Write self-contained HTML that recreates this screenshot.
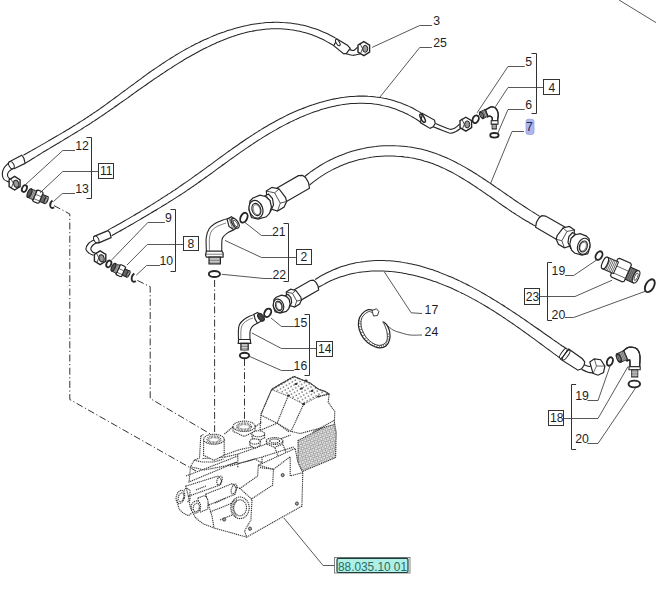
<!DOCTYPE html>
<html><head><meta charset="utf-8"><style>
html,body{margin:0;padding:0;background:#fff;}
svg{display:block;font-family:"Liberation Sans",sans-serif;}
</style></head><body>
<svg width="656" height="597" viewBox="0 0 656 597">
<rect width="656" height="597" fill="#fff"/>
<polyline points="54.0,205.6 69.8,214.0 69.8,399.5 196.0,471.0" fill="none" stroke="#333" stroke-width="1.0" stroke-dasharray="7 2.5 1.2 2.5"/>
<polyline points="137.4,280.4 150.2,286.7 150.2,398.5 210.4,434.0" fill="none" stroke="#333" stroke-width="1.0" stroke-dasharray="7 2.5 1.2 2.5"/>
<polyline points="214.6,280.0 214.6,432.0" fill="none" stroke="#333" stroke-width="1.0" stroke-dasharray="7 2.5 1.2 2.5"/>
<polyline points="244.5,359.0 244.5,420.0" fill="none" stroke="#333" stroke-width="1.0" stroke-dasharray="7 2.5 1.2 2.5"/>
<path d="M23.4,155.2 C24.0,154.9 25.8,153.9 26.9,153.2 C28.1,152.5 29.3,151.8 30.5,151.2 C31.7,150.5 32.8,149.8 34.0,149.2 C35.2,148.5 36.4,147.8 37.6,147.1 C38.7,146.5 39.9,145.8 41.1,145.1 C42.3,144.5 43.5,143.8 44.7,143.1 C45.8,142.4 47.0,141.8 48.2,141.1 C49.4,140.4 50.5,139.7 51.7,139.0 C52.9,138.4 54.1,137.7 55.2,137.0 C56.4,136.3 57.6,135.6 58.8,134.9 C59.9,134.2 61.1,133.5 62.3,132.9 C63.4,132.2 64.6,131.5 65.8,130.8 C66.9,130.1 68.1,129.4 69.2,128.7 C70.4,128.0 71.5,127.3 72.7,126.5 C73.9,125.8 75.0,125.1 76.2,124.4 C77.3,123.7 78.4,123.0 79.6,122.2 C80.7,121.5 81.9,120.8 83.0,120.1 C84.1,119.3 85.3,118.6 86.4,117.9 C87.5,117.1 88.7,116.4 89.8,115.6 C90.9,114.9 92.0,114.1 93.1,113.4 C94.3,112.6 95.4,111.9 96.5,111.1 C97.6,110.3 98.7,109.6 99.8,108.8 C100.9,108.0 102.0,107.2 103.1,106.5 C104.2,105.7 105.3,104.9 106.4,104.1 C107.5,103.3 108.6,102.5 109.6,101.8 C110.7,101.0 111.8,100.2 112.9,99.4 C114.0,98.6 115.1,97.8 116.1,97.0 C117.2,96.2 118.3,95.4 119.4,94.6 C120.5,93.8 121.6,93.0 122.6,92.2 C123.7,91.4 124.8,90.6 125.9,89.8 C126.9,89.0 128.0,88.2 129.1,87.4 C130.2,86.6 131.3,85.8 132.4,85.0 C133.4,84.2 134.5,83.4 135.6,82.6 C136.7,81.8 137.8,81.0 138.9,80.2 C139.9,79.4 141.0,78.6 142.1,77.8 C143.2,77.0 144.3,76.2 145.4,75.4 C146.5,74.6 147.6,73.8 148.7,73.0 C149.8,72.3 150.9,71.5 152.0,70.7 C153.1,69.9 154.2,69.2 155.4,68.4 C156.5,67.6 157.6,66.8 158.7,66.1 C159.8,65.3 161.0,64.6 162.1,63.8 C163.2,63.1 164.4,62.3 165.5,61.6 C166.7,60.8 167.8,60.1 169.0,59.4 C170.1,58.6 171.3,57.9 172.4,57.2 C173.6,56.5 174.8,55.7 175.9,55.0 C177.1,54.3 178.3,53.6 179.5,52.9 C180.7,52.2 181.9,51.5 183.0,50.9 C184.2,50.2 185.4,49.5 186.6,48.8 C187.9,48.2 189.1,47.5 190.3,46.9 C191.5,46.2 192.7,45.6 193.9,45.0 C195.1,44.3 196.4,43.7 197.6,43.1 C198.8,42.5 200.1,41.9 201.3,41.3 C202.5,40.7 203.8,40.1 205.0,39.6 C206.3,39.0 207.5,38.4 208.8,37.9 C210.0,37.3 211.3,36.8 212.5,36.3 C213.8,35.8 215.1,35.2 216.3,34.7 C217.6,34.2 218.9,33.8 220.1,33.3 C221.4,32.8 222.7,32.3 224.0,31.9 C225.2,31.5 226.5,31.0 227.8,30.6 C229.1,30.2 230.4,29.8 231.7,29.4 C232.9,29.0 234.2,28.6 235.5,28.2 C236.8,27.9 238.1,27.5 239.4,27.2 C240.7,26.9 242.0,26.5 243.3,26.2 C244.6,25.9 245.9,25.6 247.2,25.4 C248.5,25.1 249.8,24.9 251.1,24.6 C252.4,24.4 253.7,24.2 255.0,24.0 C256.4,23.8 257.7,23.6 259.0,23.4 C260.3,23.2 261.6,23.1 262.9,23.0 C264.2,22.8 265.5,22.7 266.9,22.6 C268.2,22.5 269.5,22.5 270.8,22.4 C272.1,22.4 273.4,22.3 274.8,22.3 C276.1,22.3 277.4,22.3 278.7,22.3 C280.0,22.4 281.3,22.4 282.7,22.5 C284.0,22.5 285.3,22.6 286.6,22.7 C287.9,22.9 289.2,23.0 290.6,23.1 C291.9,23.3 293.2,23.5 294.5,23.7 C295.8,23.9 297.1,24.1 298.4,24.3 C299.8,24.6 301.1,24.9 302.4,25.1 C303.7,25.4 305.0,25.8 306.3,26.1 C307.6,26.4 308.9,26.8 310.2,27.2 C311.5,27.6 312.8,28.0 314.2,28.4 C315.5,28.9 316.8,29.3 318.1,29.8 C319.4,30.3 320.7,30.8 322.0,31.4 C323.3,31.9 324.5,32.5 325.8,33.1 C327.1,33.7 328.4,34.3 329.7,35.0 C331.0,35.6 332.3,36.3 333.6,37.0 C334.8,37.7 336.8,38.8 337.4,39.2" fill="none" stroke="#262626" stroke-width="1.05" />
<path d="M25.2,163.4 C25.8,163.0 27.5,161.9 28.6,161.2 C29.8,160.5 30.9,159.8 32.1,159.0 C33.3,158.3 34.4,157.6 35.6,156.9 C36.7,156.2 37.9,155.5 39.0,154.8 C40.2,154.1 41.4,153.3 42.5,152.6 C43.7,151.9 44.8,151.2 46.0,150.5 C47.2,149.8 48.3,149.1 49.5,148.4 C50.6,147.7 51.8,147.0 53.0,146.3 C54.1,145.6 55.3,144.9 56.5,144.3 C57.6,143.6 58.8,142.9 59.9,142.2 C61.1,141.5 62.2,140.8 63.4,140.1 C64.6,139.4 65.7,138.7 66.9,138.0 C68.0,137.3 69.2,136.6 70.3,135.9 C71.5,135.2 72.6,134.5 73.8,133.8 C74.9,133.1 76.1,132.4 77.2,131.7 C78.4,131.0 79.5,130.3 80.7,129.6 C81.8,128.8 83.0,128.1 84.1,127.4 C85.2,126.7 86.4,126.0 87.5,125.3 C88.6,124.5 89.8,123.8 90.9,123.1 C92.0,122.4 93.1,121.6 94.3,120.9 C95.4,120.2 96.5,119.4 97.6,118.7 C98.7,117.9 99.9,117.2 101.0,116.4 C102.1,115.7 103.2,114.9 104.3,114.2 C105.4,113.4 106.5,112.7 107.6,111.9 C108.7,111.2 109.8,110.4 110.9,109.6 C112.0,108.9 113.1,108.1 114.2,107.3 C115.3,106.6 116.4,105.8 117.5,105.0 C118.6,104.3 119.7,103.5 120.8,102.7 C121.9,101.9 123.0,101.2 124.1,100.4 C125.2,99.6 126.3,98.8 127.4,98.1 C128.5,97.3 129.6,96.5 130.7,95.7 C131.7,94.9 132.8,94.2 133.9,93.4 C135.0,92.6 136.1,91.8 137.2,91.0 C138.3,90.3 139.4,89.5 140.5,88.7 C141.6,87.9 142.7,87.2 143.8,86.4 C144.9,85.6 146.1,84.8 147.2,84.0 C148.3,83.3 149.4,82.5 150.5,81.7 C151.6,81.0 152.7,80.2 153.8,79.4 C155.0,78.6 156.1,77.9 157.2,77.1 C158.3,76.4 159.5,75.6 160.6,74.8 C161.7,74.1 162.9,73.3 164.0,72.6 C165.1,71.8 166.3,71.0 167.4,70.3 C168.6,69.5 169.7,68.8 170.9,68.1 C172.0,67.3 173.2,66.6 174.3,65.8 C175.5,65.1 176.7,64.4 177.8,63.6 C179.0,62.9 180.2,62.2 181.4,61.5 C182.5,60.8 183.7,60.1 184.9,59.3 C186.1,58.6 187.3,57.9 188.5,57.3 C189.7,56.6 190.9,55.9 192.1,55.2 C193.3,54.5 194.5,53.9 195.7,53.2 C196.9,52.5 198.1,51.9 199.3,51.2 C200.5,50.6 201.7,49.9 202.9,49.3 C204.2,48.7 205.4,48.1 206.6,47.5 C207.8,46.9 209.1,46.3 210.3,45.7 C211.5,45.1 212.8,44.5 214.0,44.0 C215.2,43.4 216.5,42.9 217.7,42.3 C219.0,41.8 220.2,41.2 221.5,40.7 C222.7,40.2 224.0,39.7 225.2,39.2 C226.5,38.7 227.7,38.3 229.0,37.8 C230.2,37.4 231.5,36.9 232.8,36.5 C234.0,36.1 235.3,35.6 236.6,35.2 C237.8,34.8 239.1,34.5 240.4,34.1 C241.6,33.7 242.9,33.4 244.2,33.1 C245.5,32.7 246.7,32.4 248.0,32.1 C249.3,31.8 250.6,31.5 251.9,31.3 C253.1,31.0 254.4,30.8 255.7,30.5 C257.0,30.3 258.3,30.1 259.6,29.9 C260.9,29.7 262.1,29.6 263.4,29.4 C264.7,29.3 266.0,29.2 267.3,29.1 C268.6,29.0 269.9,28.9 271.2,28.8 C272.5,28.8 273.8,28.7 275.1,28.7 C276.4,28.7 277.7,28.7 279.0,28.7 C280.3,28.8 281.6,28.8 282.9,28.9 C284.2,29.0 285.5,29.1 286.8,29.2 C288.1,29.3 289.4,29.5 290.7,29.7 C292.0,29.8 293.3,30.0 294.6,30.3 C295.9,30.5 297.2,30.8 298.5,31.0 C299.8,31.3 301.1,31.6 302.4,32.0 C303.7,32.3 305.0,32.7 306.3,33.0 C307.7,33.4 309.0,33.9 310.3,34.3 C311.6,34.7 312.9,35.2 314.2,35.7 C315.5,36.2 316.8,36.8 318.1,37.3 C319.4,37.9 320.7,38.5 322.0,39.1 C323.3,39.7 324.6,40.4 325.9,41.1 C327.2,41.8 328.5,42.5 329.8,43.3 C331.1,44.0 333.1,45.2 333.7,45.6" fill="none" stroke="#262626" stroke-width="1.05" />
<path d="M108.3,229.9 C108.9,229.6 110.7,228.6 111.9,227.9 C113.1,227.3 114.3,226.6 115.5,226.0 C116.7,225.3 117.9,224.6 119.1,224.0 C120.2,223.3 121.4,222.6 122.6,222.0 C123.8,221.3 125.0,220.6 126.2,219.9 C127.3,219.3 128.5,218.6 129.7,217.9 C130.9,217.2 132.0,216.5 133.2,215.9 C134.4,215.2 135.6,214.5 136.7,213.8 C137.9,213.1 139.0,212.4 140.2,211.7 C141.4,211.0 142.5,210.3 143.7,209.6 C144.8,208.9 146.0,208.2 147.2,207.5 C148.3,206.8 149.5,206.1 150.6,205.4 C151.8,204.7 152.9,204.0 154.1,203.3 C155.2,202.5 156.3,201.8 157.5,201.1 C158.6,200.4 159.8,199.7 160.9,198.9 C162.0,198.2 163.2,197.5 164.3,196.7 C165.4,196.0 166.6,195.3 167.7,194.5 C168.8,193.8 170.0,193.1 171.1,192.3 C172.2,191.6 173.3,190.8 174.5,190.1 C175.6,189.3 176.7,188.6 177.8,187.8 C178.9,187.0 180.1,186.3 181.2,185.5 C182.3,184.8 183.4,184.0 184.5,183.2 C185.6,182.5 186.7,181.7 187.9,180.9 C189.0,180.1 190.1,179.3 191.2,178.6 C192.3,177.8 193.4,177.0 194.5,176.2 C195.6,175.4 196.7,174.6 197.8,173.8 C198.9,173.0 200.0,172.3 201.1,171.5 C202.2,170.7 203.3,169.9 204.4,169.1 C205.5,168.3 206.6,167.5 207.7,166.7 C208.8,165.9 209.9,165.1 211.0,164.3 C212.1,163.4 213.2,162.6 214.3,161.8 C215.4,161.0 216.5,160.2 217.6,159.4 C218.7,158.6 219.8,157.8 220.9,157.0 C222.0,156.2 223.1,155.4 224.2,154.6 C225.3,153.8 226.4,153.0 227.5,152.2 C228.6,151.4 229.7,150.7 230.8,149.9 C231.9,149.1 233.0,148.3 234.1,147.5 C235.2,146.7 236.4,145.9 237.5,145.2 C238.6,144.4 239.7,143.6 240.8,142.8 C242.0,142.1 243.1,141.3 244.2,140.5 C245.3,139.8 246.5,139.0 247.6,138.2 C248.7,137.5 249.9,136.7 251.0,136.0 C252.1,135.2 253.3,134.5 254.4,133.8 C255.6,133.0 256.7,132.3 257.9,131.6 C259.0,130.9 260.2,130.1 261.4,129.4 C262.5,128.7 263.7,128.0 264.9,127.3 C266.0,126.6 267.2,125.9 268.4,125.2 C269.6,124.6 270.7,123.9 271.9,123.2 C273.1,122.6 274.3,121.9 275.5,121.2 C276.7,120.6 277.9,119.9 279.1,119.3 C280.3,118.7 281.5,118.0 282.8,117.4 C284.0,116.8 285.2,116.2 286.4,115.6 C287.7,115.0 288.9,114.4 290.1,113.8 C291.4,113.3 292.6,112.7 293.9,112.1 C295.1,111.6 296.4,111.0 297.6,110.5 C298.9,110.0 300.2,109.4 301.4,108.9 C302.7,108.4 304.0,107.9 305.2,107.4 C306.5,106.9 307.8,106.5 309.1,106.0 C310.3,105.6 311.6,105.1 312.9,104.7 C314.2,104.2 315.5,103.8 316.8,103.4 C318.1,103.0 319.4,102.6 320.7,102.3 C322.0,101.9 323.3,101.5 324.6,101.2 C325.9,100.8 327.2,100.5 328.5,100.2 C329.8,99.9 331.1,99.6 332.4,99.3 C333.7,99.0 335.0,98.8 336.4,98.5 C337.7,98.3 339.0,98.0 340.3,97.8 C341.6,97.6 342.9,97.4 344.3,97.3 C345.6,97.1 346.9,96.9 348.2,96.8 C349.5,96.7 350.9,96.5 352.2,96.4 C353.5,96.4 354.8,96.3 356.1,96.2 C357.5,96.2 358.8,96.1 360.1,96.1 C361.4,96.1 362.7,96.1 364.1,96.1 C365.4,96.1 366.7,96.2 368.0,96.3 C369.3,96.3 370.7,96.4 372.0,96.5 C373.3,96.7 374.6,96.8 375.9,97.0 C377.2,97.1 378.6,97.3 379.9,97.5 C381.2,97.7 382.5,97.9 383.8,98.2 C385.1,98.4 386.4,98.7 387.7,99.0 C389.0,99.3 390.3,99.7 391.6,100.0 C392.9,100.4 394.2,100.8 395.5,101.2 C396.8,101.6 398.1,102.0 399.4,102.5 C400.7,102.9 402.0,103.4 403.2,103.9 C404.5,104.4 405.8,105.0 407.1,105.5 C408.4,106.1 409.6,106.7 410.9,107.3 C412.2,107.9 413.4,108.6 414.7,109.3 C416.0,110.0 417.2,110.7 418.5,111.4 C419.7,112.1 421.6,113.3 422.2,113.7" fill="none" stroke="#262626" stroke-width="1.05" />
<path d="M111.6,235.8 C112.2,235.5 114.0,234.5 115.1,233.8 C116.3,233.1 117.5,232.4 118.7,231.8 C119.9,231.1 121.1,230.4 122.2,229.7 C123.4,229.1 124.6,228.4 125.8,227.7 C127.0,227.0 128.2,226.4 129.3,225.7 C130.5,225.0 131.7,224.3 132.9,223.7 C134.0,223.0 135.2,222.3 136.4,221.6 C137.6,220.9 138.7,220.3 139.9,219.6 C141.1,218.9 142.3,218.2 143.4,217.5 C144.6,216.9 145.8,216.2 146.9,215.5 C148.1,214.8 149.3,214.1 150.4,213.4 C151.6,212.7 152.8,212.0 153.9,211.3 C155.1,210.6 156.3,209.9 157.4,209.2 C158.6,208.5 159.7,207.8 160.9,207.1 C162.0,206.4 163.2,205.7 164.3,205.0 C165.5,204.3 166.6,203.6 167.8,202.9 C168.9,202.2 170.1,201.5 171.2,200.7 C172.4,200.0 173.5,199.3 174.6,198.6 C175.8,197.8 176.9,197.1 178.0,196.4 C179.2,195.6 180.3,194.9 181.4,194.2 C182.5,193.4 183.7,192.7 184.8,192.0 C185.9,191.2 187.0,190.5 188.1,189.7 C189.2,189.0 190.4,188.2 191.5,187.4 C192.6,186.7 193.7,185.9 194.8,185.1 C195.9,184.4 197.0,183.6 198.1,182.8 C199.2,182.1 200.3,181.3 201.4,180.5 C202.5,179.7 203.5,179.0 204.6,178.2 C205.7,177.4 206.8,176.6 207.9,175.8 C209.0,175.0 210.1,174.2 211.2,173.5 C212.3,172.7 213.3,171.9 214.4,171.1 C215.5,170.3 216.6,169.5 217.7,168.7 C218.8,167.9 219.9,167.1 221.0,166.3 C222.0,165.6 223.1,164.8 224.2,164.0 C225.3,163.2 226.4,162.4 227.5,161.6 C228.6,160.8 229.7,160.0 230.8,159.2 C231.9,158.4 233.0,157.7 234.1,156.9 C235.2,156.1 236.3,155.3 237.4,154.5 C238.5,153.7 239.6,153.0 240.7,152.2 C241.8,151.4 242.9,150.6 244.0,149.9 C245.2,149.1 246.3,148.3 247.4,147.6 C248.5,146.8 249.6,146.0 250.8,145.3 C251.9,144.5 253.0,143.8 254.2,143.0 C255.3,142.3 256.5,141.5 257.6,140.8 C258.8,140.0 259.9,139.3 261.1,138.6 C262.3,137.8 263.4,137.1 264.6,136.4 C265.8,135.7 266.9,134.9 268.1,134.2 C269.3,133.5 270.5,132.8 271.7,132.1 C272.9,131.4 274.1,130.7 275.3,130.1 C276.5,129.4 277.7,128.7 278.9,128.0 C280.1,127.4 281.3,126.7 282.5,126.1 C283.7,125.4 285.0,124.8 286.2,124.1 C287.4,123.5 288.7,122.9 289.9,122.3 C291.1,121.7 292.4,121.1 293.6,120.5 C294.8,119.9 296.1,119.3 297.3,118.7 C298.6,118.2 299.8,117.6 301.1,117.1 C302.3,116.5 303.6,116.0 304.9,115.5 C306.1,115.0 307.4,114.5 308.7,114.0 C309.9,113.5 311.2,113.0 312.5,112.5 C313.7,112.1 315.0,111.6 316.3,111.2 C317.6,110.8 318.8,110.4 320.1,109.9 C321.4,109.5 322.7,109.2 324.0,108.8 C325.2,108.4 326.5,108.1 327.8,107.7 C329.1,107.4 330.4,107.1 331.7,106.8 C333.0,106.5 334.3,106.2 335.6,105.9 C336.9,105.6 338.2,105.4 339.4,105.2 C340.7,104.9 342.0,104.7 343.3,104.5 C344.6,104.3 345.9,104.2 347.2,104.0 C348.5,103.9 349.8,103.7 351.1,103.6 C352.4,103.5 353.7,103.4 355.0,103.4 C356.3,103.3 357.6,103.2 358.9,103.2 C360.2,103.2 361.5,103.2 362.8,103.2 C364.1,103.2 365.4,103.3 366.7,103.4 C368.0,103.4 369.3,103.5 370.6,103.6 C371.9,103.8 373.2,103.9 374.5,104.1 C375.8,104.2 377.1,104.4 378.4,104.6 C379.7,104.9 381.0,105.1 382.3,105.4 C383.6,105.6 384.9,105.9 386.1,106.3 C387.4,106.6 388.7,106.9 390.0,107.3 C391.3,107.7 392.6,108.1 393.9,108.5 C395.1,108.9 396.4,109.4 397.7,109.9 C399.0,110.4 400.3,110.9 401.5,111.5 C402.8,112.0 404.1,112.6 405.3,113.2 C406.6,113.8 407.9,114.4 409.1,115.1 C410.4,115.8 411.7,116.5 412.9,117.2 C414.2,118.0 415.4,118.7 416.7,119.5 C417.9,120.3 419.8,121.6 420.4,122.0" fill="none" stroke="#262626" stroke-width="1.05" />
<path d="M304.6,176.6 C305.2,176.2 306.8,174.8 307.9,174.0 C309.1,173.1 310.2,172.2 311.3,171.4 C312.5,170.6 313.6,169.8 314.8,169.0 C316.0,168.2 317.1,167.4 318.3,166.7 C319.5,165.9 320.7,165.2 321.9,164.5 C323.1,163.8 324.3,163.1 325.5,162.4 C326.7,161.8 327.9,161.1 329.2,160.5 C330.4,159.9 331.6,159.2 332.9,158.7 C334.1,158.1 335.4,157.5 336.6,157.0 C337.9,156.4 339.2,155.9 340.4,155.4 C341.7,154.9 343.0,154.4 344.3,153.9 C345.5,153.4 346.8,153.0 348.1,152.6 C349.4,152.1 350.7,151.7 352.0,151.3 C353.3,150.9 354.6,150.6 355.9,150.2 C357.2,149.9 358.6,149.5 359.9,149.2 C361.2,148.9 362.5,148.6 363.8,148.4 C365.2,148.1 366.5,147.8 367.8,147.6 C369.1,147.4 370.5,147.2 371.8,147.0 C373.1,146.8 374.5,146.6 375.8,146.5 C377.2,146.3 378.5,146.2 379.8,146.1 C381.2,146.0 382.5,145.9 383.8,145.8 C385.2,145.8 386.5,145.7 387.9,145.7 C389.2,145.7 390.6,145.6 391.9,145.7 C393.2,145.7 394.6,145.7 395.9,145.8 C397.2,145.8 398.6,145.9 399.9,146.0 C401.2,146.1 402.6,146.2 403.9,146.3 C405.2,146.4 406.6,146.6 407.9,146.8 C409.2,146.9 410.6,147.1 411.9,147.3 C413.2,147.5 414.5,147.8 415.8,148.0 C417.1,148.3 418.4,148.5 419.8,148.8 C421.1,149.1 422.4,149.4 423.7,149.8 C425.0,150.1 426.2,150.5 427.5,150.8 C428.8,151.2 430.1,151.6 431.4,152.0 C432.7,152.4 433.9,152.8 435.2,153.3 C436.5,153.7 437.7,154.2 439.0,154.7 C440.2,155.2 441.5,155.7 442.7,156.2 C444.0,156.7 445.2,157.3 446.5,157.8 C447.7,158.4 448.9,158.9 450.2,159.5 C451.4,160.1 452.6,160.7 453.8,161.3 C455.0,161.9 456.3,162.5 457.5,163.2 C458.7,163.8 459.9,164.5 461.1,165.1 C462.3,165.8 463.5,166.4 464.7,167.1 C465.9,167.8 467.1,168.5 468.3,169.2 C469.5,169.9 470.6,170.6 471.8,171.3 C473.0,172.1 474.2,172.8 475.4,173.5 C476.5,174.3 477.7,175.0 478.9,175.8 C480.1,176.5 481.2,177.3 482.4,178.0 C483.5,178.8 484.7,179.6 485.9,180.3 C487.0,181.1 488.2,181.9 489.3,182.6 C490.5,183.4 491.6,184.2 492.8,185.0 C493.9,185.8 495.1,186.6 496.2,187.4 C497.4,188.1 498.5,188.9 499.7,189.7 C500.8,190.5 502.0,191.3 503.1,192.1 C504.2,192.9 505.4,193.7 506.5,194.5 C507.6,195.3 508.8,196.0 509.9,196.8 C511.1,197.6 512.2,198.4 513.3,199.2 C514.4,199.9 515.6,200.7 516.7,201.5 C517.8,202.3 519.0,203.0 520.1,203.8 C521.2,204.5 522.4,205.3 523.5,206.0 C524.6,206.8 525.7,207.5 526.9,208.2 C528.0,209.0 529.1,209.7 530.2,210.4 C531.4,211.1 532.5,211.8 533.6,212.5 C534.8,213.2 535.9,213.9 537.0,214.6 C538.1,215.3 539.8,216.3 540.4,216.6" fill="none" stroke="#262626" stroke-width="1.05" />
<path d="M309.5,185.1 C310.1,184.7 311.7,183.3 312.8,182.4 C313.9,181.5 315.1,180.7 316.2,179.8 C317.4,179.0 318.5,178.2 319.7,177.4 C320.8,176.6 322.0,175.8 323.2,175.1 C324.4,174.3 325.5,173.6 326.7,172.9 C327.9,172.2 329.2,171.5 330.4,170.9 C331.6,170.2 332.8,169.6 334.0,168.9 C335.3,168.3 336.5,167.7 337.8,167.2 C339.0,166.6 340.3,166.0 341.5,165.5 C342.8,165.0 344.0,164.5 345.3,164.0 C346.6,163.5 347.9,163.1 349.1,162.6 C350.4,162.2 351.7,161.8 353.0,161.4 C354.3,161.0 355.6,160.6 356.9,160.3 C358.2,159.9 359.5,159.6 360.8,159.3 C362.1,159.0 363.4,158.7 364.8,158.4 C366.1,158.1 367.4,157.9 368.7,157.7 C370.0,157.4 371.4,157.2 372.7,157.1 C374.0,156.9 375.3,156.7 376.7,156.6 C378.0,156.5 379.3,156.3 380.7,156.2 C382.0,156.2 383.3,156.1 384.7,156.0 C386.0,156.0 387.3,156.0 388.7,155.9 C390.0,155.9 391.3,156.0 392.7,156.0 C394.0,156.0 395.3,156.1 396.7,156.2 C398.0,156.2 399.3,156.3 400.6,156.4 C402.0,156.6 403.3,156.7 404.6,156.9 C405.9,157.0 407.2,157.2 408.6,157.4 C409.9,157.6 411.2,157.8 412.5,158.1 C413.8,158.3 415.1,158.6 416.4,158.9 C417.7,159.2 419.0,159.5 420.3,159.8 C421.6,160.1 422.9,160.5 424.1,160.9 C425.4,161.2 426.7,161.6 428.0,162.0 C429.2,162.4 430.5,162.9 431.8,163.3 C433.0,163.8 434.3,164.3 435.5,164.8 C436.8,165.2 438.0,165.8 439.2,166.3 C440.5,166.8 441.7,167.4 442.9,167.9 C444.1,168.5 445.3,169.1 446.6,169.7 C447.8,170.3 449.0,170.9 450.2,171.5 C451.4,172.1 452.6,172.7 453.8,173.4 C455.0,174.0 456.2,174.7 457.3,175.4 C458.5,176.1 459.7,176.8 460.9,177.5 C462.1,178.1 463.2,178.9 464.4,179.6 C465.6,180.3 466.8,181.0 467.9,181.8 C469.1,182.5 470.2,183.2 471.4,184.0 C472.6,184.7 473.7,185.5 474.9,186.3 C476.0,187.0 477.2,187.8 478.3,188.6 C479.5,189.3 480.6,190.1 481.8,190.9 C482.9,191.7 484.0,192.5 485.2,193.3 C486.3,194.1 487.5,194.9 488.6,195.6 C489.7,196.4 490.9,197.2 492.0,198.0 C493.1,198.8 494.3,199.6 495.4,200.4 C496.5,201.2 497.7,202.0 498.8,202.8 C499.9,203.6 501.1,204.4 502.2,205.2 C503.3,205.9 504.5,206.7 505.6,207.5 C506.7,208.3 507.9,209.0 509.0,209.8 C510.1,210.6 511.3,211.3 512.4,212.1 C513.5,212.8 514.7,213.6 515.8,214.3 C516.9,215.1 518.1,215.8 519.2,216.5 C520.3,217.2 521.5,218.0 522.6,218.7 C523.8,219.4 524.9,220.1 526.0,220.7 C527.2,221.4 528.3,222.1 529.5,222.7 C530.6,223.4 531.8,224.0 532.9,224.7 C534.1,225.3 535.8,226.2 536.4,226.5" fill="none" stroke="#262626" stroke-width="1.05" />
<path d="M315.1,279.5 C315.7,279.1 317.6,277.9 318.8,277.2 C320.1,276.4 321.4,275.7 322.6,275.0 C323.9,274.3 325.2,273.7 326.4,273.0 C327.7,272.4 329.0,271.8 330.3,271.2 C331.5,270.6 332.8,270.0 334.1,269.5 C335.4,269.0 336.7,268.5 337.9,268.0 C339.2,267.5 340.5,267.0 341.8,266.6 C343.1,266.2 344.4,265.8 345.7,265.4 C347.0,265.0 348.3,264.6 349.6,264.3 C350.9,264.0 352.2,263.7 353.5,263.4 C354.8,263.1 356.1,262.8 357.4,262.6 C358.7,262.3 360.0,262.1 361.3,261.9 C362.6,261.7 363.9,261.5 365.2,261.4 C366.6,261.2 367.9,261.1 369.2,261.0 C370.5,260.9 371.8,260.8 373.1,260.7 C374.4,260.6 375.7,260.6 377.1,260.5 C378.4,260.5 379.7,260.5 381.0,260.5 C382.3,260.5 383.6,260.5 385.0,260.6 C386.3,260.6 387.6,260.7 388.9,260.8 C390.2,260.9 391.5,261.0 392.8,261.1 C394.2,261.2 395.5,261.4 396.8,261.5 C398.1,261.7 399.4,261.9 400.7,262.0 C402.0,262.2 403.3,262.4 404.6,262.7 C406.0,262.9 407.3,263.1 408.6,263.4 C409.9,263.7 411.2,263.9 412.5,264.2 C413.8,264.5 415.1,264.8 416.4,265.1 C417.7,265.4 419.0,265.8 420.3,266.1 C421.6,266.5 422.9,266.8 424.2,267.2 C425.5,267.6 426.8,268.0 428.1,268.4 C429.4,268.8 430.7,269.2 431.9,269.6 C433.2,270.1 434.5,270.5 435.8,271.0 C437.1,271.4 438.4,271.9 439.6,272.4 C440.9,272.9 442.2,273.4 443.4,273.9 C444.7,274.4 446.0,274.9 447.2,275.4 C448.5,275.9 449.8,276.5 451.0,277.0 C452.3,277.6 453.5,278.1 454.8,278.7 C456.1,279.2 457.3,279.8 458.6,280.4 C459.8,281.0 461.0,281.6 462.3,282.2 C463.5,282.8 464.8,283.4 466.0,284.0 C467.2,284.7 468.5,285.3 469.7,285.9 C470.9,286.6 472.2,287.2 473.4,287.9 C474.6,288.5 475.8,289.2 477.1,289.9 C478.3,290.5 479.5,291.2 480.7,291.9 C481.9,292.6 483.1,293.3 484.3,294.0 C485.5,294.7 486.7,295.4 487.9,296.1 C489.2,296.8 490.3,297.5 491.5,298.2 C492.7,299.0 493.9,299.7 495.1,300.4 C496.3,301.1 497.5,301.9 498.7,302.6 C499.9,303.4 501.0,304.1 502.2,304.8 C503.4,305.6 504.6,306.4 505.7,307.1 C506.9,307.9 508.1,308.6 509.3,309.4 C510.4,310.1 511.6,310.9 512.7,311.7 C513.9,312.4 515.1,313.2 516.2,314.0 C517.4,314.8 518.5,315.5 519.7,316.3 C520.8,317.1 522.0,317.9 523.1,318.6 C524.2,319.4 525.4,320.2 526.5,321.0 C527.6,321.8 528.8,322.5 529.9,323.3 C531.0,324.1 532.2,324.9 533.3,325.7 C534.4,326.4 535.5,327.2 536.6,328.0 C537.7,328.8 538.9,329.6 540.0,330.3 C541.1,331.1 542.2,331.9 543.3,332.7 C544.4,333.4 545.5,334.2 546.6,335.0 C547.7,335.7 548.8,336.5 549.9,337.3 C551.0,338.0 552.0,338.8 553.1,339.6 C554.2,340.3 555.3,341.1 556.4,341.8 C557.4,342.6 558.5,343.3 559.6,344.1 C560.7,344.8 561.7,345.6 562.8,346.3 C563.9,347.0 565.5,348.1 566.0,348.5" fill="none" stroke="#262626" stroke-width="1.05" />
<path d="M317.6,288.0 C318.2,287.6 320.0,286.5 321.3,285.8 C322.5,285.0 323.7,284.4 325.0,283.7 C326.2,283.0 327.4,282.4 328.7,281.8 C329.9,281.2 331.2,280.6 332.5,280.1 C333.7,279.5 335.0,279.0 336.2,278.5 C337.5,278.0 338.8,277.6 340.1,277.1 C341.4,276.7 342.6,276.3 343.9,275.9 C345.2,275.5 346.5,275.1 347.8,274.8 C349.1,274.4 350.4,274.1 351.7,273.8 C353.0,273.5 354.3,273.2 355.6,273.0 C356.9,272.7 358.2,272.5 359.5,272.3 C360.9,272.1 362.2,271.9 363.5,271.8 C364.8,271.6 366.1,271.5 367.5,271.4 C368.8,271.3 370.1,271.2 371.4,271.1 C372.8,271.0 374.1,271.0 375.4,271.0 C376.7,270.9 378.1,270.9 379.4,270.9 C380.7,270.9 382.1,271.0 383.4,271.0 C384.7,271.1 386.1,271.2 387.4,271.2 C388.7,271.3 390.0,271.4 391.4,271.6 C392.7,271.7 394.0,271.8 395.4,272.0 C396.7,272.2 398.0,272.3 399.4,272.5 C400.7,272.7 402.0,273.0 403.4,273.2 C404.7,273.4 406.0,273.7 407.3,273.9 C408.7,274.2 410.0,274.5 411.3,274.8 C412.6,275.1 413.9,275.4 415.3,275.7 C416.6,276.0 417.9,276.3 419.2,276.7 C420.5,277.1 421.8,277.4 423.1,277.8 C424.4,278.2 425.7,278.6 427.0,279.0 C428.3,279.4 429.6,279.8 430.9,280.2 C432.2,280.7 433.5,281.1 434.8,281.6 C436.1,282.0 437.4,282.5 438.6,283.0 C439.9,283.5 441.2,284.0 442.4,284.5 C443.7,285.0 445.0,285.5 446.2,286.0 C447.5,286.5 448.7,287.0 450.0,287.6 C451.2,288.1 452.5,288.7 453.7,289.3 C455.0,289.8 456.2,290.4 457.4,291.0 C458.7,291.6 459.9,292.1 461.1,292.7 C462.3,293.3 463.6,294.0 464.8,294.6 C466.0,295.2 467.2,295.8 468.4,296.4 C469.6,297.1 470.8,297.7 472.0,298.4 C473.2,299.0 474.4,299.7 475.6,300.3 C476.8,301.0 478.0,301.7 479.2,302.4 C480.4,303.0 481.6,303.7 482.7,304.4 C483.9,305.1 485.1,305.8 486.3,306.5 C487.4,307.2 488.6,307.9 489.8,308.6 C490.9,309.4 492.1,310.1 493.3,310.8 C494.4,311.5 495.6,312.3 496.7,313.0 C497.9,313.8 499.0,314.5 500.2,315.2 C501.3,316.0 502.5,316.7 503.6,317.5 C504.7,318.3 505.9,319.0 507.0,319.8 C508.1,320.6 509.3,321.3 510.4,322.1 C511.5,322.9 512.7,323.6 513.8,324.4 C514.9,325.2 516.0,326.0 517.1,326.8 C518.3,327.5 519.4,328.3 520.5,329.1 C521.6,329.9 522.7,330.7 523.8,331.5 C524.9,332.3 526.0,333.1 527.1,333.9 C528.2,334.7 529.3,335.5 530.4,336.3 C531.5,337.1 532.6,337.9 533.7,338.7 C534.8,339.5 535.9,340.3 537.0,341.1 C538.1,341.9 539.2,342.7 540.3,343.5 C541.3,344.3 542.4,345.1 543.5,345.9 C544.6,346.7 545.7,347.5 546.7,348.3 C547.8,349.1 548.9,349.9 550.0,350.7 C551.0,351.5 552.1,352.3 553.2,353.1 C554.3,353.8 555.3,354.6 556.4,355.4 C557.5,356.2 559.1,357.4 559.6,357.8" fill="none" stroke="#262626" stroke-width="1.05" />
<polygon points="9.4,161.7 21.7,155.2 23.8,158.0 25.2,163.4 14.0,168.7" fill="#fff" stroke="#262626" stroke-width="1.2" />
<ellipse cx="11.4" cy="165.2" rx="2.4" ry="3.9" transform="rotate(-28 11.4 165.2)" fill="#fff" stroke="#262626" stroke-width="1.0" />
<path d="M9.0,162.5 C8.2,163.4 5.1,166.1 4.0,168.0 C2.9,169.9 2.3,172.1 2.3,174.0 C2.3,175.9 2.9,178.2 4.0,179.5 C5.1,180.8 8.2,181.6 9.0,182.0" fill="none" stroke="#262626" stroke-width="1.15" />
<path d="M12.8,168.5 C12.1,169.1 9.4,170.8 8.5,172.0 C7.6,173.2 7.3,174.8 7.6,176.0 C7.8,177.2 9.6,178.5 10.0,179.0" fill="none" stroke="#262626" stroke-width="1.15" />
<polygon points="14.6,190.0 9.1,186.6 9.1,179.8 14.6,176.4 20.1,179.8 20.1,186.6" fill="#fff" stroke="#262626" stroke-width="1.4" />
<ellipse cx="16.2" cy="183.8" rx="2.5" ry="3.6" transform="rotate(-15 16.2 183.8)" fill="#9a9a9a" stroke="#262626" stroke-width="1.0" />
<polyline points="10.5,178.3 13.2,183.2 11.2,188.3" fill="none" stroke="#262626" stroke-width="0.8" />
<ellipse cx="24.4" cy="188.6" rx="2.3" ry="3.5" transform="rotate(25 24.4 188.6)" fill="none" stroke="#262626" stroke-width="1.8" />
<polygon points="42.0,194.3 47.6,196.6 44.6,203.6 39.1,201.3" fill="#8a8a8a" stroke="#262626" stroke-width="1.1" />
<polyline points="43.4,194.9 40.4,201.9" fill="none" stroke="#333" stroke-width="0.6" />
<polyline points="44.8,195.5 41.8,202.5" fill="none" stroke="#333" stroke-width="0.6" />
<polyline points="46.2,196.0 43.2,203.0" fill="none" stroke="#333" stroke-width="0.6" />
<ellipse cx="46.1" cy="200.1" rx="1.5959999999999999" ry="3.8" transform="rotate(23 46.1 200.1)" fill="#fff" stroke="#262626" stroke-width="1.1" />
<ellipse cx="46.1" cy="200.2" rx="0.836" ry="2.28" transform="rotate(23 46.1 200.2)" fill="none" stroke="#262626" stroke-width="0.7" />
<polygon points="36.7,190.3 38.3,190.1 42.1,191.7 43.1,193.0 38.9,202.9 37.3,203.1 33.4,201.5 32.5,200.2" fill="#fff" stroke="#262626" stroke-width="1.2" />
<polyline points="35.3,194.2 41.2,196.7" fill="none" stroke="#262626" stroke-width="0.7" />
<polyline points="33.5,198.5 39.4,201.0" fill="none" stroke="#262626" stroke-width="0.7" />
<polygon points="31.3,188.9 36.8,191.2 33.2,199.7 27.7,197.3" fill="#6e6e6e" stroke="#262626" stroke-width="1.1" />
<polyline points="32.7,189.5 29.1,197.9" fill="none" stroke="#ccc" stroke-width="0.6" />
<polyline points="34.1,190.0 30.5,198.5" fill="none" stroke="#ccc" stroke-width="0.6" />
<polyline points="35.4,190.6 31.8,199.1" fill="none" stroke="#ccc" stroke-width="0.6" />
<ellipse cx="29.5" cy="193.1" rx="1.8859999999999997" ry="4.6" transform="rotate(23 29.5 193.1)" fill="#5a5a5a" stroke="#262626" stroke-width="1.2" />
<path d="M52.5,200.5 A2.5,3.9 25 1 0 54,207.3" fill="none" stroke="#262626" stroke-width="1.8" />
<polygon points="337.4,39.2 347.4,45.2 350.2,48.4 346.5,53.4 343.8,53.9 333.7,45.6" fill="#fff" stroke="#262626" stroke-width="1.2" />
<ellipse cx="337.8" cy="42.6" rx="1.6" ry="3.6" transform="rotate(-32 337.8 42.6)" fill="#fff" stroke="#262626" stroke-width="1.0" />
<path d="M349.6,49.6 C350.3,49.7 352.6,50.8 353.9,50.4 C355.2,50.0 357.0,47.7 357.6,47.2" fill="none" stroke="#262626" stroke-width="1.15" />
<path d="M346.0,53.6 C347.2,53.9 350.6,55.2 353.0,55.3 C355.4,55.3 359.1,54.1 360.3,53.9" fill="none" stroke="#262626" stroke-width="1.15" />
<polygon points="363.8,55.6 358.0,52.1 358.0,45.1 363.8,41.6 369.6,45.1 369.6,52.1" fill="#fff" stroke="#262626" stroke-width="1.4" />
<ellipse cx="365.2" cy="48.8" rx="2.5" ry="3.5" transform="rotate(0 365.2 48.8)" fill="#9a9a9a" stroke="#262626" stroke-width="1.0" />
<polyline points="359.8,43.2 362.5,48.6 360.3,54.2" fill="none" stroke="#262626" stroke-width="0.8" />
<polygon points="94.0,236.4 108.1,230.6 110.0,233.0 111.1,237.6 98.8,242.9" fill="#fff" stroke="#262626" stroke-width="1.2" />
<ellipse cx="96.3" cy="239.6" rx="2.3" ry="3.7" transform="rotate(-28 96.3 239.6)" fill="#fff" stroke="#262626" stroke-width="1.0" />
<path d="M94.1,239.9 C93.2,240.5 89.9,241.9 88.5,243.5 C87.1,245.1 85.8,247.7 85.9,249.3 C86.1,251.0 88.1,252.4 89.4,253.4 C90.7,254.4 92.8,254.9 93.5,255.2" fill="none" stroke="#262626" stroke-width="1.15" />
<path d="M97.6,242.3 C96.8,242.8 93.6,244.3 92.5,245.5 C91.4,246.7 90.7,248.2 90.8,249.3 C90.9,250.4 92.2,251.6 92.9,252.2 C93.6,252.8 94.8,252.7 95.2,252.8" fill="none" stroke="#262626" stroke-width="1.15" />
<polygon points="100.1,264.7 94.4,261.2 94.4,254.4 100.1,250.9 105.8,254.3 105.8,261.2" fill="#fff" stroke="#262626" stroke-width="1.4" />
<ellipse cx="101.6" cy="258.3" rx="2.5" ry="3.6" transform="rotate(-15 101.6 258.3)" fill="#9a9a9a" stroke="#262626" stroke-width="1.0" />
<polyline points="96.0,252.5 98.8,257.8 96.8,263.0" fill="none" stroke="#262626" stroke-width="0.8" />
<ellipse cx="108.8" cy="263.9" rx="2.3" ry="3.5" transform="rotate(25 108.8 263.9)" fill="none" stroke="#262626" stroke-width="1.8" />
<polygon points="124.6,268.7 129.5,270.9 126.6,277.1 121.7,274.9" fill="#8a8a8a" stroke="#262626" stroke-width="1.1" />
<polyline points="125.9,269.2 123.0,275.4" fill="none" stroke="#333" stroke-width="0.6" />
<polyline points="127.1,269.8 124.2,276.0" fill="none" stroke="#333" stroke-width="0.6" />
<polyline points="128.3,270.4 125.4,276.6" fill="none" stroke="#333" stroke-width="0.6" />
<ellipse cx="128.1" cy="274.0" rx="1.4364" ry="3.42" transform="rotate(25 128.1 274.0)" fill="#fff" stroke="#262626" stroke-width="1.1" />
<ellipse cx="128.1" cy="274.1" rx="0.7524" ry="2.052" transform="rotate(25 128.1 274.1)" fill="none" stroke="#262626" stroke-width="0.7" />
<polygon points="119.9,264.9 121.4,264.8 124.8,266.4 125.6,267.6 121.5,276.4 120.1,276.5 116.7,274.9 115.8,273.7" fill="#fff" stroke="#262626" stroke-width="1.2" />
<polyline points="118.6,268.4 123.8,270.8" fill="none" stroke="#262626" stroke-width="0.7" />
<polyline points="116.8,272.2 122.1,274.6" fill="none" stroke="#262626" stroke-width="0.7" />
<polygon points="115.1,263.4 120.0,265.7 116.5,273.2 111.7,271.0" fill="#6e6e6e" stroke="#262626" stroke-width="1.1" />
<polyline points="116.4,264.0 112.9,271.5" fill="none" stroke="#ccc" stroke-width="0.6" />
<polyline points="117.6,264.6 114.1,272.1" fill="none" stroke="#ccc" stroke-width="0.6" />
<polyline points="118.8,265.2 115.3,272.7" fill="none" stroke="#ccc" stroke-width="0.6" />
<ellipse cx="113.4" cy="267.2" rx="1.6973999999999998" ry="4.14" transform="rotate(25 113.4 267.2)" fill="#5a5a5a" stroke="#262626" stroke-width="1.2" />
<path d="M134.3,273.5 A2.4,3.9 25 1 0 135.8,281" fill="none" stroke="#262626" stroke-width="1.8" />
<polygon points="422.5,113.5 434.4,120.1 435.3,123.2 433.2,126.8 430.1,128.4 420.4,122.6" fill="#fff" stroke="#262626" stroke-width="1.2" />
<ellipse cx="422.6" cy="118.2" rx="1.7" ry="4.6" transform="rotate(-30 422.6 118.2)" fill="none" stroke="#262626" stroke-width="1.5" />
<path d="M435.6,123.5 C436.7,124.0 439.6,125.3 442.0,126.3 C444.4,127.3 447.8,129.0 450.0,129.3 C452.2,129.6 453.4,128.8 455.0,128.0 C456.6,127.2 458.8,124.8 459.5,124.2" fill="none" stroke="#262626" stroke-width="1.15" />
<path d="M433.2,126.8 C434.7,127.4 439.2,129.1 442.0,130.2 C444.8,131.3 447.7,133.0 450.0,133.2 C452.3,133.4 454.1,132.4 456.0,131.5 C457.9,130.6 460.6,128.4 461.5,127.8" fill="none" stroke="#262626" stroke-width="1.15" />
<polygon points="465.8,131.2 460.0,127.7 460.0,120.7 465.8,117.2 471.6,120.7 471.6,127.7" fill="#fff" stroke="#262626" stroke-width="1.4" />
<ellipse cx="467.2" cy="124.4" rx="2.5" ry="3.5" transform="rotate(0 467.2 124.4)" fill="#9a9a9a" stroke="#262626" stroke-width="1.0" />
<polyline points="461.7,118.7 464.3,124.2 462.2,129.7" fill="none" stroke="#262626" stroke-width="0.8" />
<ellipse cx="475.7" cy="119.2" rx="2.9" ry="4.0" transform="rotate(25 475.7 119.2)" fill="none" stroke="#262626" stroke-width="1.8" />
<path d="M485.5,110.0 C486.4,109.5 489.5,107.2 491.2,106.9 C492.9,106.6 494.5,107.1 495.7,108.2 C496.9,109.3 497.8,111.5 498.2,113.3 C498.6,115.1 497.9,117.5 497.8,118.8 C497.7,120.1 497.5,120.6 497.4,121.0 L498.0,120.8 L491.2,120.8 L492.3,121.0 L492.1,117.5 L489.8,116.0 L487.5,117.0 Z" fill="#fff" stroke="#262626" stroke-width="1.2" />
<path d="M487.5,117.0 C487.9,116.8 489.0,115.9 489.8,116.0 C490.6,116.1 491.7,116.7 492.1,117.5 C492.5,118.3 492.3,120.4 492.3,121.0" fill="none" stroke="#262626" stroke-width="1.2" />
<path d="M485.5,110.0 C486.4,109.5 489.5,107.2 491.2,106.9 C492.9,106.6 494.5,107.1 495.7,108.2 C496.9,109.3 497.8,111.5 498.2,113.3 C498.6,115.1 497.9,117.5 497.8,118.8 C497.7,120.1 497.5,120.6 497.4,121.0" fill="none" stroke="#262626" stroke-width="1.2" />
<polygon points="491.2,120.8 498.0,120.8 498.0,124.3 491.2,124.3" fill="#fff" stroke="#262626" stroke-width="1.1" />
<polygon points="492.2,124.3 496.3,124.3 496.3,129.0 492.2,129.0" fill="#888" stroke="#262626" stroke-width="1.1" />
<polyline points="492.2,125.7 496.3,125.7" fill="none" stroke="#ddd" stroke-width="0.6" />
<polyline points="492.2,127.2 496.3,127.2" fill="none" stroke="#ddd" stroke-width="0.6" />
<polygon points="480.1,111.9 485.1,109.6 488.1,116.1 483.1,118.5" fill="#6a6a6a" stroke="#262626" stroke-width="1.1" />
<polyline points="481.7,111.2 484.8,117.7" fill="none" stroke="#ccc" stroke-width="0.6" />
<polyline points="483.4,110.4 486.4,116.9" fill="none" stroke="#ccc" stroke-width="0.6" />
<ellipse cx="481.6" cy="115.2" rx="1.512" ry="3.6" transform="rotate(-25 481.6 115.2)" fill="#444" stroke="#262626" stroke-width="1.2" />
<ellipse cx="481.6" cy="115.2" rx="0.7200000000000001" ry="1.8" transform="rotate(-25 481.6 115.2)" fill="none" stroke="#aaa" stroke-width="0.6" />
<ellipse cx="494.4" cy="135.3" rx="4.2" ry="2.3" transform="rotate(0 494.4 135.3)" fill="none" stroke="#262626" stroke-width="1.8" />
<polygon points="568.7,349.1 582.4,358.8 584.7,362.0 584.0,365.5 581.5,368.8 577.9,370.2 560.5,359.2" fill="#fff" stroke="#262626" stroke-width="1.2" />
<ellipse cx="563.3" cy="353.3" rx="1.8" ry="6.0" transform="rotate(35 563.3 353.3)" fill="#fff" stroke="#262626" stroke-width="1.0" />
<ellipse cx="566.3" cy="355.0" rx="1.8" ry="6.0" transform="rotate(35 566.3 355.0)" fill="none" stroke="#262626" stroke-width="1.0" />
<path d="M584.3,364.7 C585.2,365.0 588.6,366.8 589.8,366.5 C591.0,366.2 591.3,363.5 591.6,362.9" fill="none" stroke="#262626" stroke-width="1.15" />
<path d="M581.5,369.3 C582.6,369.8 586.0,371.6 588.0,372.2 C590.0,372.8 592.5,372.8 593.4,372.9" fill="none" stroke="#262626" stroke-width="1.15" />
<polygon points="589.8,362.0 594.3,358.8 600.7,359.7 604.9,366.1 603.5,372.5 598.0,375.2 593.0,373.4" fill="#fff" stroke="#262626" stroke-width="1.2" />
<polyline points="594.3,358.8 596.5,366.0 593.0,373.4" fill="none" stroke="#262626" stroke-width="0.7" />
<polyline points="596.5,366.0 604.9,366.1" fill="none" stroke="#262626" stroke-width="0.7" />
<ellipse cx="609.9" cy="361.5" rx="2.8" ry="4.4" transform="rotate(20 609.9 361.5)" fill="none" stroke="#262626" stroke-width="1.9" />
<g transform="translate(255.7,208.2)"><polygon points="21.3,-20.3 42.7,-32.5 46.8,-32.9 49.8,-30.7 52.8,-25.7 53.8,-20.0 30.4,-6.4" fill="#fff" stroke="#262626" stroke-width="1.2" vector-effect="non-scaling-stroke"/><polygon points="10.6,-17.1 16.3,-20.9 23.4,-19.2 29.9,-10.6 30.9,-6.7 28.4,-1.1 21.8,2.8 15.3,0.8 11.6,-7.2" fill="#fff" stroke="#262626" stroke-width="1.2" vector-effect="non-scaling-stroke"/><polyline points="10.6,-17.1 18.9,-15.4 23.4,-19.2" fill="none" stroke="#262626" stroke-width="0.8" vector-effect="non-scaling-stroke"/><polyline points="18.9,-15.4 24.6,-5.1 30.9,-6.7" fill="none" stroke="#262626" stroke-width="0.8" vector-effect="non-scaling-stroke"/><polyline points="24.6,-5.1 21.8,2.8" fill="none" stroke="#262626" stroke-width="0.8" vector-effect="non-scaling-stroke"/><polygon points="7.3,-11.2 12.8,-14.2 16.8,-9.7 17.8,-3.2 14.8,3.3 8.3,6.3" fill="#fff" stroke="#262626" stroke-width="1.2" vector-effect="non-scaling-stroke"/><polyline points="10.3,-12.7 14.3,-7.7 14.3,0.3 10.8,5.3" fill="none" stroke="#262626" stroke-width="0.8" vector-effect="non-scaling-stroke"/><polygon points="-5.7,-7.2 -2.7,-10.2 4.2,-13.0 9.8,-11.7 14.3,-7.7 15.8,-1.2 13.8,5.3 10.6,8.6 2.3,11.0 -4.2,9.3 -6.7,1.8" fill="#fff" stroke="#262626" stroke-width="1.2" vector-effect="non-scaling-stroke"/><ellipse cx="0.3" cy="1.1" rx="6.7" ry="9.1" transform="rotate(-18 0.3 1.1)" fill="#fff" stroke="#262626" stroke-width="1.2" vector-effect="non-scaling-stroke"/><ellipse cx="0.7" cy="1.3" rx="4.3" ry="6.3" transform="rotate(-18 0.7 1.3)" fill="#fff" stroke="#262626" stroke-width="1.1" vector-effect="non-scaling-stroke"/><ellipse cx="1.0" cy="1.5" rx="3.3" ry="5.2" transform="rotate(-18 1.0 1.5)" fill="none" stroke="#262626" stroke-width="0.6" vector-effect="non-scaling-stroke"/></g>
<g transform="translate(584,245.3) scale(-0.9,0.9)"><polygon points="21.3,-20.3 42.7,-32.5 46.8,-32.9 49.8,-30.7 52.8,-25.7 53.8,-20.0 30.4,-6.4" fill="#fff" stroke="#262626" stroke-width="1.2" vector-effect="non-scaling-stroke"/><polygon points="10.6,-17.1 16.3,-20.9 23.4,-19.2 29.9,-10.6 30.9,-6.7 28.4,-1.1 21.8,2.8 15.3,0.8 11.6,-7.2" fill="#fff" stroke="#262626" stroke-width="1.2" vector-effect="non-scaling-stroke"/><polyline points="10.6,-17.1 18.9,-15.4 23.4,-19.2" fill="none" stroke="#262626" stroke-width="0.8" vector-effect="non-scaling-stroke"/><polyline points="18.9,-15.4 24.6,-5.1 30.9,-6.7" fill="none" stroke="#262626" stroke-width="0.8" vector-effect="non-scaling-stroke"/><polyline points="24.6,-5.1 21.8,2.8" fill="none" stroke="#262626" stroke-width="0.8" vector-effect="non-scaling-stroke"/><polygon points="7.3,-11.2 12.8,-14.2 16.8,-9.7 17.8,-3.2 14.8,3.3 8.3,6.3" fill="#fff" stroke="#262626" stroke-width="1.2" vector-effect="non-scaling-stroke"/><polyline points="10.3,-12.7 14.3,-7.7 14.3,0.3 10.8,5.3" fill="none" stroke="#262626" stroke-width="0.8" vector-effect="non-scaling-stroke"/><polygon points="-5.7,-7.2 -2.7,-10.2 4.2,-13.0 9.8,-11.7 14.3,-7.7 15.8,-1.2 13.8,5.3 10.6,8.6 2.3,11.0 -4.2,9.3 -6.7,1.8" fill="#fff" stroke="#262626" stroke-width="1.2" vector-effect="non-scaling-stroke"/><ellipse cx="0.3" cy="1.1" rx="6.7" ry="9.1" transform="rotate(-18 0.3 1.1)" fill="#fff" stroke="#262626" stroke-width="1.2" vector-effect="non-scaling-stroke"/><ellipse cx="0.7" cy="1.3" rx="4.3" ry="6.3" transform="rotate(-18 0.7 1.3)" fill="#fff" stroke="#262626" stroke-width="1.1" vector-effect="non-scaling-stroke"/><ellipse cx="1.0" cy="1.5" rx="3.3" ry="5.2" transform="rotate(-18 1.0 1.5)" fill="none" stroke="#262626" stroke-width="0.6" vector-effect="non-scaling-stroke"/></g>
<g transform="translate(278.3,304.9) scale(0.75)"><polygon points="21.3,-20.3 42.7,-32.5 46.8,-32.9 49.8,-30.7 52.8,-25.7 53.8,-20.0 30.4,-6.4" fill="#fff" stroke="#262626" stroke-width="1.2" vector-effect="non-scaling-stroke"/><polygon points="10.6,-17.1 16.3,-20.9 23.4,-19.2 29.9,-10.6 30.9,-6.7 28.4,-1.1 21.8,2.8 15.3,0.8 11.6,-7.2" fill="#fff" stroke="#262626" stroke-width="1.2" vector-effect="non-scaling-stroke"/><polyline points="10.6,-17.1 18.9,-15.4 23.4,-19.2" fill="none" stroke="#262626" stroke-width="0.8" vector-effect="non-scaling-stroke"/><polyline points="18.9,-15.4 24.6,-5.1 30.9,-6.7" fill="none" stroke="#262626" stroke-width="0.8" vector-effect="non-scaling-stroke"/><polyline points="24.6,-5.1 21.8,2.8" fill="none" stroke="#262626" stroke-width="0.8" vector-effect="non-scaling-stroke"/><polygon points="7.3,-11.2 12.8,-14.2 16.8,-9.7 17.8,-3.2 14.8,3.3 8.3,6.3" fill="#fff" stroke="#262626" stroke-width="1.2" vector-effect="non-scaling-stroke"/><polyline points="10.3,-12.7 14.3,-7.7 14.3,0.3 10.8,5.3" fill="none" stroke="#262626" stroke-width="0.8" vector-effect="non-scaling-stroke"/><polygon points="-5.7,-7.2 -2.7,-10.2 4.2,-13.0 9.8,-11.7 14.3,-7.7 15.8,-1.2 13.8,5.3 10.6,8.6 2.3,11.0 -4.2,9.3 -6.7,1.8" fill="#fff" stroke="#262626" stroke-width="1.2" vector-effect="non-scaling-stroke"/><ellipse cx="0.3" cy="1.1" rx="6.7" ry="9.1" transform="rotate(-18 0.3 1.1)" fill="#fff" stroke="#262626" stroke-width="1.2" vector-effect="non-scaling-stroke"/><ellipse cx="0.7" cy="1.3" rx="4.3" ry="6.3" transform="rotate(-18 0.7 1.3)" fill="#fff" stroke="#262626" stroke-width="1.1" vector-effect="non-scaling-stroke"/><ellipse cx="1.0" cy="1.5" rx="3.3" ry="5.2" transform="rotate(-18 1.0 1.5)" fill="none" stroke="#262626" stroke-width="0.6" vector-effect="non-scaling-stroke"/></g>
<ellipse cx="243.9" cy="217.7" rx="3.3" ry="5.2" transform="rotate(25 243.9 217.7)" fill="none" stroke="#262626" stroke-width="1.9" />
<ellipse cx="214.4" cy="274.0" rx="5.6" ry="3.0" transform="rotate(0 214.4 274.0)" fill="none" stroke="#262626" stroke-width="1.9" />
<ellipse cx="599.0" cy="255.6" rx="3.0" ry="4.6" transform="rotate(30 599.0 255.6)" fill="none" stroke="#262626" stroke-width="1.9" />
<ellipse cx="649.8" cy="285.7" rx="4.1" ry="7.0" transform="rotate(30 649.8 285.7)" fill="none" stroke="#262626" stroke-width="1.9" />
<ellipse cx="267.7" cy="312.8" rx="3.1" ry="4.5" transform="rotate(30 267.7 312.8)" fill="none" stroke="#262626" stroke-width="1.9" />
<ellipse cx="244.5" cy="355.5" rx="4.7" ry="2.7" transform="rotate(0 244.5 355.5)" fill="none" stroke="#262626" stroke-width="1.9" />
<ellipse cx="634.3" cy="384.0" rx="5.8" ry="3.4" transform="rotate(0 634.3 384.0)" fill="none" stroke="#262626" stroke-width="1.9" />
<path d="M206.4,251.2 C206.4,249.0 205.8,241.7 206.2,238.0 C206.6,234.3 207.5,231.4 209.0,229.0 C210.5,226.6 212.7,225.0 215.0,223.5 C217.3,222.0 220.8,220.8 223.0,220.0 C225.2,219.2 227.2,218.8 228.0,218.6" fill="none" stroke="#262626" stroke-width="1.1" />
<path d="M233.8,229.8 C233.0,230.2 230.6,231.1 229.0,232.0 C227.4,232.9 225.7,234.2 224.5,235.5 C223.3,236.8 222.4,237.4 222.0,240.0 C221.6,242.6 221.8,249.3 221.8,251.2" fill="none" stroke="#262626" stroke-width="1.1" />
<path d="M209.5,250.5 C209.5,248.4 209.1,241.3 209.5,238.0 C209.9,234.7 210.6,232.5 212.0,230.5 C213.4,228.5 215.7,227.2 218.0,226.0 C220.3,224.8 224.7,223.5 226.0,223.0" fill="none" stroke="#262626" stroke-width="0.6" />
<polygon points="227.1,219.1 231.5,216.8 236.5,221.0 238.0,227.0 233.8,229.8 229.0,226.5" fill="#fff" stroke="#262626" stroke-width="1.2" />
<ellipse cx="235.2" cy="223.1" rx="2.9" ry="5.6" transform="rotate(-35 235.2 223.1)" fill="#fff" stroke="#262626" stroke-width="1.1" />
<ellipse cx="235.4" cy="223.4" rx="1.6" ry="3.8" transform="rotate(-35 235.4 223.4)" fill="none" stroke="#262626" stroke-width="0.8" />
<polyline points="229.0,218.3 232.6,228.5" fill="none" stroke="#262626" stroke-width="0.6" />
<polyline points="230.6,218.6 234.2,228.8" fill="none" stroke="#262626" stroke-width="0.6" />
<polyline points="232.2,218.9 235.8,229.1" fill="none" stroke="#262626" stroke-width="0.6" />
<polygon points="206.4,251.2 221.8,251.2 223.1,253.0 223.1,257.2 206.4,257.2 205.5,255.0" fill="#fff" stroke="#262626" stroke-width="1.2" />
<polyline points="206.0,254.2 223.0,254.2" fill="none" stroke="#262626" stroke-width="0.6" />
<polygon points="209.0,257.2 220.4,257.2 220.4,263.9 209.0,263.9" fill="#fff" stroke="#262626" stroke-width="1.2" />
<polyline points="209.0,259.0 220.4,259.0" fill="none" stroke="#262626" stroke-width="0.6" />
<polyline points="209.0,260.6 220.4,260.6" fill="none" stroke="#262626" stroke-width="0.6" />
<polyline points="209.0,262.2 220.4,262.2" fill="none" stroke="#262626" stroke-width="0.6" />
<path d="M238.6,342.0 C238.6,340.2 238.2,333.9 238.4,331.0 C238.6,328.1 238.6,326.4 239.5,324.5 C240.4,322.6 242.2,320.9 244.0,319.5 C245.8,318.1 248.3,316.8 250.0,316.0 C251.7,315.2 253.6,314.8 254.3,314.6" fill="none" stroke="#262626" stroke-width="1.1" />
<path d="M257.3,323.2 C256.7,323.6 254.6,324.6 253.5,325.5 C252.4,326.4 251.6,327.4 251.0,328.5 C250.4,329.6 250.2,330.1 250.0,332.0 C249.8,333.9 250.0,338.7 250.0,340.0" fill="none" stroke="#262626" stroke-width="1.1" />
<path d="M241.0,341.0 C241.0,339.2 240.7,332.8 241.0,330.0 C241.3,327.2 241.8,325.7 243.0,324.0 C244.2,322.3 246.3,321.0 248.0,320.0 C249.7,319.0 252.2,318.3 253.0,318.0" fill="none" stroke="#262626" stroke-width="0.6" />
<polygon points="254.0,314.3 257.5,312.5 261.5,315.5 263.0,320.0 257.5,323.2 255.0,319.0" fill="#fff" stroke="#262626" stroke-width="1.2" />
<ellipse cx="261.0" cy="317.2" rx="2.6" ry="4.3" transform="rotate(-35 261.0 317.2)" fill="#444" stroke="#262626" stroke-width="1.1" />
<polygon points="238.6,339.5 250.2,339.5 250.8,343.3 238.2,343.3" fill="#fff" stroke="#262626" stroke-width="1.2" />
<polygon points="240.9,343.3 248.2,343.3 248.2,350.0 240.9,350.0" fill="#fff" stroke="#262626" stroke-width="1.2" />
<polyline points="240.9,345.0 248.2,345.0" fill="none" stroke="#262626" stroke-width="0.6" />
<polyline points="240.9,346.6 248.2,346.6" fill="none" stroke="#262626" stroke-width="0.6" />
<polyline points="240.9,348.2 248.2,348.2" fill="none" stroke="#262626" stroke-width="0.6" />
<polygon points="629.6,266.7 638.7,270.8 633.4,282.9 624.2,278.8" fill="#8a8a8a" stroke="#262626" stroke-width="1.1" />
<polyline points="631.1,267.4 625.8,279.5" fill="none" stroke="#333" stroke-width="0.6" />
<polyline points="632.7,268.1 627.3,280.1" fill="none" stroke="#333" stroke-width="0.6" />
<polyline points="634.2,268.8 628.8,280.8" fill="none" stroke="#333" stroke-width="0.6" />
<polyline points="635.7,269.4 630.3,281.5" fill="none" stroke="#333" stroke-width="0.6" />
<polyline points="637.2,270.1 631.9,282.2" fill="none" stroke="#333" stroke-width="0.6" />
<ellipse cx="636.1" cy="276.8" rx="2.772" ry="6.6" transform="rotate(24 636.1 276.8)" fill="#fff" stroke="#262626" stroke-width="1.1" />
<ellipse cx="636.1" cy="276.8" rx="1.452" ry="3.9599999999999995" transform="rotate(24 636.1 276.8)" fill="none" stroke="#262626" stroke-width="0.7" />
<polygon points="617.7,259.0 619.7,258.4 630.6,263.2 631.4,265.1 624.2,281.3 622.3,281.9 611.4,277.0 610.5,275.2" fill="#fff" stroke="#262626" stroke-width="1.2" />
<polyline points="615.2,265.3 628.4,271.2" fill="none" stroke="#262626" stroke-width="0.7" />
<polyline points="612.1,272.3 625.3,278.2" fill="none" stroke="#262626" stroke-width="0.7" />
<polygon points="607.6,257.2 618.5,262.1 613.4,273.6 602.4,268.8" fill="#fff" stroke="#262626" stroke-width="1.1" />
<polyline points="609.1,257.9 604.0,269.5" fill="none" stroke="#444" stroke-width="0.8" />
<polyline points="610.7,258.6 605.6,270.1" fill="none" stroke="#444" stroke-width="0.8" />
<polyline points="612.3,259.3 607.1,270.8" fill="none" stroke="#444" stroke-width="0.8" />
<polyline points="613.8,260.0 608.7,271.5" fill="none" stroke="#444" stroke-width="0.8" />
<polyline points="615.4,260.7 610.3,272.2" fill="none" stroke="#444" stroke-width="0.8" />
<polyline points="617.0,261.4 611.8,272.9" fill="none" stroke="#444" stroke-width="0.8" />
<ellipse cx="605.0" cy="263.0" rx="2.5829999999999997" ry="6.3" transform="rotate(24 605.0 263.0)" fill="#fff" stroke="#262626" stroke-width="1.2" />
<path d="M622.5,351.5 C623.5,350.8 626.3,348.0 628.4,347.4 C630.5,346.8 633.2,347.2 634.9,347.8 C636.6,348.4 637.8,349.6 638.6,351.1 C639.5,352.6 639.8,354.0 640.0,356.6 C640.2,359.2 639.7,365.0 639.6,366.7 L640.2,366.7 L629.0,366.7 L630.0,366.7 L629.8,360.0 L626.8,361.0 Z" fill="#fff" stroke="#262626" stroke-width="1.2" />
<path d="M626.8,361.0 C627.3,360.8 629.3,359.1 629.8,360.0 C630.3,360.9 630.0,365.6 630.0,366.7" fill="none" stroke="#262626" stroke-width="1.2" />
<path d="M622.5,351.5 C623.5,350.8 626.3,348.0 628.4,347.4 C630.5,346.8 633.2,347.2 634.9,347.8 C636.6,348.4 637.8,349.6 638.6,351.1 C639.5,352.6 639.8,354.0 640.0,356.6 C640.2,359.2 639.7,365.0 639.6,366.7" fill="none" stroke="#262626" stroke-width="1.2" />
<polygon points="629.0,366.7 640.2,366.7 640.2,369.7 629.0,369.7" fill="#fff" stroke="#262626" stroke-width="1.1" />
<polygon points="631.7,369.7 637.7,369.7 637.7,377.0 631.7,377.0" fill="#888" stroke="#262626" stroke-width="1.1" />
<polyline points="631.7,371.1 637.7,371.1" fill="none" stroke="#ddd" stroke-width="0.6" />
<polyline points="631.7,372.6 637.7,372.6" fill="none" stroke="#ddd" stroke-width="0.6" />
<polyline points="631.7,374.1 637.7,374.1" fill="none" stroke="#ddd" stroke-width="0.6" />
<polyline points="631.7,375.6 637.7,375.6" fill="none" stroke="#ddd" stroke-width="0.6" />
<polygon points="617.0,353.8 623.9,350.8 627.5,359.3 620.6,362.2" fill="#6a6a6a" stroke="#262626" stroke-width="1.1" />
<polyline points="618.4,353.2 622.0,361.6" fill="none" stroke="#ccc" stroke-width="0.6" />
<polyline points="619.8,352.6 623.4,361.1" fill="none" stroke="#ccc" stroke-width="0.6" />
<polyline points="621.1,352.0 624.7,360.5" fill="none" stroke="#ccc" stroke-width="0.6" />
<polyline points="622.5,351.4 626.1,359.9" fill="none" stroke="#ccc" stroke-width="0.6" />
<ellipse cx="618.8" cy="358.0" rx="1.9319999999999997" ry="4.6" transform="rotate(-23 618.8 358.0)" fill="#444" stroke="#262626" stroke-width="1.2" />
<ellipse cx="618.8" cy="358.0" rx="0.9199999999999999" ry="2.3" transform="rotate(-23 618.8 358.0)" fill="none" stroke="#aaa" stroke-width="0.6" />
<path d="M376.0,311.5 C374.7,311.2 370.7,309.3 368.4,309.7 C366.1,310.1 363.6,312.0 362.0,313.8 C360.4,315.6 359.2,317.7 358.7,320.3 C358.2,322.9 358.3,326.4 359.2,329.5 C360.1,332.6 361.8,336.1 363.8,338.7 C365.8,341.3 368.6,343.6 371.2,345.1 C373.8,346.6 377.1,347.8 379.5,347.9 C381.9,348.0 384.2,347.4 385.9,346.0 C387.6,344.6 389.0,342.1 389.6,339.6 C390.2,337.2 390.1,333.8 389.6,331.3 C389.1,328.9 387.9,326.5 386.8,324.9 C385.7,323.3 383.7,322.2 383.1,321.6" fill="none" stroke="#262626" stroke-width="1.2" />
<path d="M372.0,312.5 C371.4,312.4 369.9,311.1 368.4,311.7 C366.9,312.3 364.1,314.4 362.9,316.1 C361.7,317.8 361.1,319.9 361.0,322.1 C360.9,324.3 361.1,326.9 362.0,329.5 C362.9,332.1 364.8,335.5 366.6,337.8 C368.4,340.1 370.9,342.0 373.0,343.3 C375.1,344.6 377.5,345.4 379.5,345.4 C381.5,345.4 383.7,344.4 385.0,343.3 C386.3,342.2 387.0,340.7 387.3,338.7 C387.6,336.7 387.3,333.8 386.8,331.3 C386.3,328.8 384.8,325.5 384.1,323.9 C383.4,322.3 382.8,322.1 382.5,321.8" fill="none" stroke="#262626" stroke-width="0.9" />
<polygon points="372.0,310.5 376.5,308.8 378.8,311.5 377.5,315.5 373.5,316.0" fill="#fff" stroke="#262626" stroke-width="0.9" />
<polyline points="358.7,320.3 361.0,322.1" fill="none" stroke="#444" stroke-width="0.7" />
<polyline points="358.9,323.3 361.3,324.5" fill="none" stroke="#444" stroke-width="0.7" />
<polyline points="359.0,326.4 361.7,327.0" fill="none" stroke="#444" stroke-width="0.7" />
<polyline points="359.2,329.5 362.0,329.5" fill="none" stroke="#444" stroke-width="0.7" />
<polyline points="360.7,332.5 363.5,332.2" fill="none" stroke="#444" stroke-width="0.7" />
<polyline points="362.2,335.6 365.0,335.0" fill="none" stroke="#444" stroke-width="0.7" />
<polyline points="363.8,338.7 366.6,337.8" fill="none" stroke="#444" stroke-width="0.7" />
<polyline points="366.2,340.8 368.7,339.6" fill="none" stroke="#444" stroke-width="0.7" />
<polyline points="368.7,342.9 370.8,341.4" fill="none" stroke="#444" stroke-width="0.7" />
<polyline points="371.2,345.1 373.0,343.3" fill="none" stroke="#444" stroke-width="0.7" />
<polyline points="373.9,346.0 375.1,344.0" fill="none" stroke="#444" stroke-width="0.7" />
<polyline points="376.7,346.9 377.3,344.7" fill="none" stroke="#444" stroke-width="0.7" />
<polyline points="379.5,347.9 379.5,345.4" fill="none" stroke="#444" stroke-width="0.7" />
<polyline points="381.6,347.3 381.3,344.7" fill="none" stroke="#444" stroke-width="0.7" />
<polyline points="383.7,346.6 383.1,344.0" fill="none" stroke="#444" stroke-width="0.7" />
<polyline points="385.9,346.0 385.0,343.3" fill="none" stroke="#444" stroke-width="0.7" />
<polyline points="387.1,343.9 385.8,341.8" fill="none" stroke="#444" stroke-width="0.7" />
<polyline points="388.3,341.8 386.5,340.3" fill="none" stroke="#444" stroke-width="0.7" />
<polyline points="389.6,339.6 387.3,338.7" fill="none" stroke="#444" stroke-width="0.7" />
<polyline points="389.6,336.9 387.1,336.3" fill="none" stroke="#444" stroke-width="0.7" />
<polyline points="389.6,334.1 387.0,333.8" fill="none" stroke="#444" stroke-width="0.7" />
<polyline points="372.2,47.4 419.7,25.5 431.9,25.5" fill="none" stroke="#3a3a3a" stroke-width="0.85" />
<text x="433.2" y="25.4" font-size="12.3" fill="#1e1e1e" text-anchor="start" >3</text>
<polyline points="380.0,97.0 419.7,47.5 431.9,47.5" fill="none" stroke="#3a3a3a" stroke-width="0.85" />
<text x="433.2" y="47.2" font-size="12.3" fill="#1e1e1e" text-anchor="start" >25</text>
<polyline points="531.5,53.5 536.5,53.5 536.5,113.5 531.5,113.5" fill="none" stroke="#333" stroke-width="1.0" />
<polyline points="477.0,112.9 508.0,66.5 524.7,66.5" fill="none" stroke="#3a3a3a" stroke-width="0.85" />
<text x="525.2" y="66.1" font-size="12.3" fill="#1e1e1e" text-anchor="start" >5</text>
<polyline points="495.4,106.8 508.0,87.5 544.0,87.5" fill="none" stroke="#3a3a3a" stroke-width="0.85" />
<rect x="543.5" y="79.5" width="16" height="15" fill="#fff" stroke="#333" stroke-width="1.0" />
<text x="548.4" y="91.5" font-size="12.1" fill="#1e1e1e" text-anchor="start" >4</text>
<polyline points="497.7,133.4 508.0,109.5 524.7,109.5" fill="none" stroke="#3a3a3a" stroke-width="0.85" />
<text x="525.2" y="108.6" font-size="12.3" fill="#1e1e1e" text-anchor="start" >6</text>
<rect x="526" y="119.3" width="8" height="15.2" fill="#aeb6ee" stroke="#8e98d6" stroke-width="0.7" rx="2.2"/>
<text x="525.9" y="130.9" font-size="12.3" fill="#1c2458" text-anchor="start" >7</text>
<polyline points="490.8,182.9 512.0,131.5 524.0,131.5" fill="none" stroke="#3a3a3a" stroke-width="0.85" />
<polyline points="86.5,137.5 91.5,137.5 91.5,198.5 86.5,198.5" fill="none" stroke="#333" stroke-width="1.0" />
<polyline points="25.0,185.0 62.8,150.5 75.0,150.5" fill="none" stroke="#3a3a3a" stroke-width="0.85" />
<text x="75.2" y="149.9" font-size="12.3" fill="#1e1e1e" text-anchor="start" >12</text>
<polyline points="40.0,192.8 62.8,171.5 98.4,171.5" fill="none" stroke="#3a3a3a" stroke-width="0.85" />
<rect x="98.5" y="163.5" width="15" height="15" fill="#fff" stroke="#333" stroke-width="1.0" />
<text x="100" y="175.2" font-size="12.1" fill="#1e1e1e" text-anchor="start" >11</text>
<polyline points="53.5,201.5 62.3,193.5 75.0,193.5" fill="none" stroke="#3a3a3a" stroke-width="0.85" />
<text x="75.2" y="192.9" font-size="12.3" fill="#1e1e1e" text-anchor="start" >13</text>
<polyline points="170.5,209.5 175.5,209.5 175.5,271.5 170.5,271.5" fill="none" stroke="#333" stroke-width="1.0" />
<polyline points="111.7,259.9 147.8,222.5 165.0,222.5" fill="none" stroke="#3a3a3a" stroke-width="0.85" />
<text x="165.1" y="222" font-size="12.3" fill="#1e1e1e" text-anchor="start" >9</text>
<polyline points="126.9,265.1 147.3,244.5 183.0,244.5" fill="none" stroke="#3a3a3a" stroke-width="0.85" />
<rect x="183.5" y="236.5" width="15" height="14" fill="#fff" stroke="#333" stroke-width="1.0" />
<text x="187.5" y="247.9" font-size="12.1" fill="#1e1e1e" text-anchor="start" >8</text>
<polyline points="136.3,275.1 146.6,265.5 160.0,265.5" fill="none" stroke="#3a3a3a" stroke-width="0.85" />
<text x="159.5" y="265.2" font-size="12.3" fill="#1e1e1e" text-anchor="start" >10</text>
<polyline points="283.5,223.5 288.5,223.5 288.5,281.5 283.5,281.5" fill="none" stroke="#333" stroke-width="1.0" />
<polyline points="245.0,222.5 261.5,235.5 272.5,235.5" fill="none" stroke="#3a3a3a" stroke-width="0.85" />
<text x="271.9" y="236.1" font-size="12.3" fill="#1e1e1e" text-anchor="start" >21</text>
<polyline points="225.1,240.5 261.5,257.5 296.6,257.5" fill="none" stroke="#3a3a3a" stroke-width="0.85" />
<rect x="296.5" y="249.5" width="15" height="15" fill="#fff" stroke="#333" stroke-width="1.0" />
<text x="300.6" y="261.3" font-size="12.1" fill="#1e1e1e" text-anchor="start" >2</text>
<polyline points="221.8,274.3 264.0,278.5 272.5,278.5" fill="none" stroke="#3a3a3a" stroke-width="0.85" />
<text x="272.4" y="278.6" font-size="12.3" fill="#1e1e1e" text-anchor="start" >22</text>
<polyline points="304.5,314.5 309.5,314.5 309.5,375.5 304.5,375.5" fill="none" stroke="#333" stroke-width="1.0" />
<polyline points="271.0,318.0 281.4,326.5 294.0,326.5" fill="none" stroke="#3a3a3a" stroke-width="0.85" />
<text x="293.6" y="327.4" font-size="12.3" fill="#1e1e1e" text-anchor="start" >15</text>
<polyline points="251.8,332.9 281.4,348.5 317.3,348.5" fill="none" stroke="#3a3a3a" stroke-width="0.85" />
<rect x="316.5" y="341.5" width="16" height="15" fill="#fff" stroke="#333" stroke-width="1.0" />
<text x="318" y="352.8" font-size="12.1" fill="#1e1e1e" text-anchor="start" >14</text>
<polyline points="248.8,356.1 281.4,370.5 294.0,370.5" fill="none" stroke="#3a3a3a" stroke-width="0.85" />
<text x="293.6" y="369.9" font-size="12.3" fill="#1e1e1e" text-anchor="start" >16</text>
<polyline points="384.4,272.0 411.2,312.8 422.0,313.5" fill="none" stroke="#3a3a3a" stroke-width="0.85" />
<text x="424.6" y="313.5" font-size="12.3" fill="#1e1e1e" text-anchor="start" >17</text>
<path d="M386.8,324.9 C387.8,325.8 390.8,328.7 393.0,330.0 C395.2,331.3 397.2,331.7 400.0,332.5 C402.8,333.3 406.3,334.6 410.0,335.0 C413.7,335.4 420.0,335.0 422.0,335.0" fill="none" stroke="#3a3a3a" stroke-width="0.85" />
<text x="424.6" y="335.9" font-size="12.3" fill="#1e1e1e" text-anchor="start" >24</text>
<polyline points="552.1,262.5 547.5,262.5 547.5,320.5 552.1,320.5" fill="none" stroke="#333" stroke-width="1.0" />
<polyline points="596.0,260.4 573.7,275.5 565.0,275.5" fill="none" stroke="#3a3a3a" stroke-width="0.85" />
<text x="551.6" y="274.9" font-size="12.3" fill="#1e1e1e" text-anchor="start" >19</text>
<polyline points="612.1,280.2 575.0,296.5 539.3,296.5" fill="none" stroke="#3a3a3a" stroke-width="0.85" />
<rect x="524.5" y="288.5" width="15" height="16" fill="#fff" stroke="#333" stroke-width="1.0" />
<text x="525.8" y="300.7" font-size="12.1" fill="#1e1e1e" text-anchor="start" >23</text>
<polyline points="645.3,291.3 573.7,317.5 565.0,317.5" fill="none" stroke="#3a3a3a" stroke-width="0.85" />
<text x="551.6" y="318.6" font-size="12.3" fill="#1e1e1e" text-anchor="start" >20</text>
<polyline points="576.1,384.5 571.5,384.5 571.5,449.5 576.1,449.5" fill="none" stroke="#333" stroke-width="1.0" />
<polyline points="609.9,366.5 598.0,400.5 587.4,400.5" fill="none" stroke="#3a3a3a" stroke-width="0.85" />
<text x="575.2" y="399.7" font-size="12.3" fill="#1e1e1e" text-anchor="start" >19</text>
<polyline points="628.0,366.5 598.0,418.5 564.0,418.5" fill="none" stroke="#3a3a3a" stroke-width="0.85" />
<rect x="548.5" y="410.5" width="15" height="15" fill="#fff" stroke="#333" stroke-width="1.0" />
<text x="550.1" y="422.4" font-size="12.1" fill="#1e1e1e" text-anchor="start" >18</text>
<polyline points="635.7,387.8 598.0,443.5 587.4,443.5" fill="none" stroke="#3a3a3a" stroke-width="0.85" />
<text x="575.2" y="442.9" font-size="12.3" fill="#1e1e1e" text-anchor="start" >20</text>
<polyline points="619.0,0.0 656.0,22.6" fill="none" stroke="#3a3a3a" stroke-width="0.85" />
<polyline points="283.8,517.9 323.1,565.5 334.5,565.5" fill="none" stroke="#3a3a3a" stroke-width="0.85" />
<rect x="334.5" y="557.5" width="75.5" height="15.5" fill="#fff" stroke="#777" stroke-width="0.9" />
<rect x="337" y="558.3" width="71" height="14.2" fill="#aef0e6" stroke="#1e3e3a" stroke-width="1.2" rx="1.5"/>
<text x="338" y="571" font-size="12.9" fill="#2a6b63" text-anchor="start" textLength="69" lengthAdjust="spacingAndGlyphs">88.035.10 01</text>
<defs>
<pattern id="mesh" width="3" height="3" patternUnits="userSpaceOnUse" patternTransform="rotate(-27)"><rect width="3" height="3" fill="#fff"/><circle cx="1.5" cy="1.5" r="0.95" fill="none" stroke="#555" stroke-width="0.7"/></pattern>
<pattern id="stip" width="3.4" height="3.4" patternUnits="userSpaceOnUse" patternTransform="rotate(-30)"><rect width="3.4" height="3.4" fill="#fff"/><circle cx="1.0" cy="1.0" r="0.7" fill="#4a4a4a"/></pattern>
</defs>
<polygon points="298.0,440.5 334.3,421.7 336.2,432.6 335.6,457.5 303.4,471.1 298.0,466.0" fill="url(#mesh)" stroke="#333" stroke-width="1.1" stroke-dasharray="1.2 0.75"/>
<polygon points="261.0,414.2 271.6,389.6 277.1,386.1 294.0,376.5 310.1,383.1 318.2,389.1 325.2,391.6 329.2,394.1 328.2,402.2 332.3,408.2 334.8,411.2 334.3,424.5 300.0,433.5 291.0,431.4 277.1,423.2 260.0,430.3" fill="#fff" stroke="#333" stroke-width="1.1" stroke-dasharray="1.2 0.75"/>
<polygon points="271.6,389.6 277.1,386.1 294.0,376.5 310.1,383.1 318.2,389.1 325.2,391.6 329.2,394.1 318.2,396.6 303.6,404.2 288.1,396.1" fill="url(#stip)" stroke="#333" stroke-width="0.8" stroke-dasharray="1.2 0.75"/>
<polyline points="271.6,389.6 277.1,386.1 294.0,376.5 310.1,383.1 318.2,389.1 325.2,391.6 329.2,394.1" fill="none" stroke="#333" stroke-width="1.1" stroke-dasharray="2 0.6"/>
<polyline points="261.0,414.2 271.6,389.6" fill="none" stroke="#444" stroke-width="1.0" stroke-dasharray="2 0.6"/>
<polyline points="288.1,396.1 277.1,423.2" fill="none" stroke="#333" stroke-width="1.1" stroke-dasharray="1.2 0.75"/>
<polyline points="303.6,404.2 291.0,431.4" fill="none" stroke="#333" stroke-width="1.1" stroke-dasharray="1.2 0.75"/>
<polyline points="261.0,415.2 277.1,423.2 289.2,432.0" fill="none" stroke="#333" stroke-width="1.1" stroke-dasharray="1.2 0.75"/>
<polyline points="334.3,420.3 313.1,432.0" fill="none" stroke="#333" stroke-width="1.1" stroke-dasharray="1.2 0.75"/>
<polyline points="318.2,396.6 329.2,394.1" fill="none" stroke="#333" stroke-width="1.1" stroke-dasharray="1.2 0.75"/>
<ellipse cx="288.5" cy="395.5" rx="1.5" ry="1.1" transform="rotate(0 288.5 395.5)" fill="#2a2a2a" stroke="none" stroke-width="0" />
<ellipse cx="303.6" cy="404.2" rx="1.5" ry="1.1" transform="rotate(0 303.6 404.2)" fill="#2a2a2a" stroke="none" stroke-width="0" />
<ellipse cx="318.5" cy="396.5" rx="1.5" ry="1.1" transform="rotate(0 318.5 396.5)" fill="#2a2a2a" stroke="none" stroke-width="0" />
<ellipse cx="301.5" cy="388.5" rx="1.5" ry="1.1" transform="rotate(0 301.5 388.5)" fill="#2a2a2a" stroke="none" stroke-width="0" />
<ellipse cx="312.0" cy="391.0" rx="1.5" ry="1.1" transform="rotate(0 312.0 391.0)" fill="#2a2a2a" stroke="none" stroke-width="0" />
<ellipse cx="296.0" cy="384.0" rx="1.5" ry="1.1" transform="rotate(0 296.0 384.0)" fill="#2a2a2a" stroke="none" stroke-width="0" />
<ellipse cx="306.0" cy="380.5" rx="1.5" ry="1.1" transform="rotate(0 306.0 380.5)" fill="#2a2a2a" stroke="none" stroke-width="0" />
<polyline points="200.8,436.0 203.4,434.5" fill="none" stroke="#333" stroke-width="1.1" stroke-dasharray="1.2 0.75"/>
<polyline points="224.4,434.0 232.8,427.0" fill="none" stroke="#333" stroke-width="1.1" stroke-dasharray="1.2 0.75"/>
<polyline points="255.4,426.5 262.0,422.0" fill="none" stroke="#333" stroke-width="1.1" stroke-dasharray="1.2 0.75"/>
<polyline points="200.8,436.0 199.5,458.0 194.2,460.3 190.5,466.7 189.1,481.4" fill="none" stroke="#333" stroke-width="1.1" stroke-dasharray="1.2 0.75"/>
<polyline points="225.2,457.0 237.0,454.4 258.0,447.0 290.6,435.1" fill="none" stroke="#333" stroke-width="1.1" stroke-dasharray="1.2 0.75"/>
<polyline points="238.6,463.6 262.0,457.0 294.0,446.9" fill="none" stroke="#333" stroke-width="1.1" stroke-dasharray="1.2 0.75"/>
<polyline points="223.5,455.2 240.0,449.5 257.1,446.0" fill="none" stroke="#333" stroke-width="1.1" stroke-dasharray="1.2 0.75"/>
<polyline points="237.8,454.4 237.8,468.0" fill="none" stroke="#333" stroke-width="1.1" stroke-dasharray="1.2 0.75"/>
<polyline points="202.6,458.6 225.2,457.0" fill="none" stroke="#333" stroke-width="1.1" stroke-dasharray="1.2 0.75"/>
<polyline points="194.2,460.3 202.0,462.0 214.0,462.0 223.5,459.0" fill="none" stroke="#333" stroke-width="1.1" stroke-dasharray="1.2 0.75"/>
<polyline points="190.5,466.7 204.0,470.0 225.0,466.0 237.8,462.0" fill="none" stroke="#333" stroke-width="1.1" stroke-dasharray="1.2 0.75"/>
<polyline points="230.0,466.0 255.0,459.0 262.0,463.0" fill="none" stroke="#333" stroke-width="1.1" stroke-dasharray="1.2 0.75"/>
<polyline points="262.0,457.0 262.0,466.0" fill="none" stroke="#333" stroke-width="1.1" stroke-dasharray="1.2 0.75"/>
<polyline points="275.0,448.0 278.0,456.0" fill="none" stroke="#333" stroke-width="1.1" stroke-dasharray="1.2 0.75"/>
<polyline points="283.0,445.0 286.0,452.0" fill="none" stroke="#333" stroke-width="1.1" stroke-dasharray="1.2 0.75"/>
<polygon points="258.4,465.1 295.2,448.4 297.7,461.8 302.8,472.6 301.9,506.1 246.7,537.1 244.5,531.0 250.9,520.0 252.0,499.4 240.0,488.5 257.6,476.0" fill="#fff" stroke="#333" stroke-width="1.1" stroke-dasharray="1.2 0.75"/>
<polyline points="260.0,467.6 273.5,469.3 272.6,485.2 250.9,499.4" fill="none" stroke="#333" stroke-width="1.1" stroke-dasharray="1.2 0.75"/>
<polyline points="273.5,469.3 290.2,456.7 290.2,476.0 302.8,472.6" fill="none" stroke="#333" stroke-width="1.1" stroke-dasharray="1.2 0.75"/>
<polyline points="258.4,465.1 273.5,469.3" fill="none" stroke="#333" stroke-width="1.1" stroke-dasharray="1.2 0.75"/>
<polyline points="240.0,488.5 236.0,487.0 222.0,493.0" fill="none" stroke="#333" stroke-width="1.1" stroke-dasharray="1.2 0.75"/>
<polygon points="185.7,486.2 217.9,476.1 221.5,480.0 220.6,484.8 188.4,496.2" fill="#fff" stroke="#333" stroke-width="1.1" stroke-dasharray="1.2 0.75"/>
<ellipse cx="219.5" cy="480.5" rx="2.4" ry="4.6" transform="rotate(20 219.5 480.5)" fill="none" stroke="#333" stroke-width="1.1" stroke-dasharray="1.2 0.75"/>
<ellipse cx="180.4" cy="496.9" rx="4.1" ry="6.7" transform="rotate(15 180.4 496.9)" fill="#fff" stroke="#333" stroke-width="1.1" stroke-dasharray="1.2 0.75"/>
<ellipse cx="181.0" cy="497.3" rx="2.6" ry="4.5" transform="rotate(15 181.0 497.3)" fill="none" stroke="#333" stroke-width="1.1" stroke-dasharray="1.2 0.75"/>
<polyline points="184.0,490.5 186.0,488.0 190.0,490.0 190.0,500.0 187.0,502.0" fill="none" stroke="#333" stroke-width="1.1" stroke-dasharray="1.2 0.75"/>
<polygon points="205.8,494.2 232.6,483.5 236.3,488.0 235.3,494.2 208.5,505.0" fill="#fff" stroke="#333" stroke-width="1.1" stroke-dasharray="1.2 0.75"/>
<ellipse cx="234.0" cy="489.0" rx="2.4" ry="5.2" transform="rotate(20 234.0 489.0)" fill="none" stroke="#333" stroke-width="1.1" stroke-dasharray="1.2 0.75"/>
<polygon points="197.8,498.0 205.0,495.5 208.0,500.0 207.8,509.0 200.5,512.0" fill="#fff" stroke="#333" stroke-width="1.1" stroke-dasharray="1.2 0.75"/>
<ellipse cx="195.8" cy="507.0" rx="4.7" ry="6.2" transform="rotate(15 195.8 507.0)" fill="#fff" stroke="#333" stroke-width="1.1" stroke-dasharray="1.2 0.75"/>
<ellipse cx="196.3" cy="507.5" rx="3" ry="4.3" transform="rotate(15 196.3 507.5)" fill="none" stroke="#333" stroke-width="1.1" stroke-dasharray="1.2 0.75"/>
<polyline points="176.8,500.0 179.0,509.0 183.0,513.0 188.4,515.7 192.0,513.0" fill="none" stroke="#333" stroke-width="1.1" stroke-dasharray="1.2 0.75"/>
<polyline points="192.4,512.0 195.0,517.0 197.8,519.7 203.1,523.7 214.0,528.0 246.7,537.1" fill="none" stroke="#333" stroke-width="1.1" stroke-dasharray="1.2 0.75"/>
<polyline points="208.5,505.0 212.0,516.0 214.0,528.0" fill="none" stroke="#333" stroke-width="1.1" stroke-dasharray="1.2 0.75"/>
<polyline points="188.4,496.2 190.0,506.0 192.0,510.0" fill="none" stroke="#333" stroke-width="1.1" stroke-dasharray="1.2 0.75"/>
<polyline points="188.4,482.2 236.6,462.1" fill="none" stroke="#333" stroke-width="1.1" stroke-dasharray="1.2 0.75"/>
<polyline points="186.0,476.0 220.0,463.0 237.8,456.0" fill="none" stroke="#333" stroke-width="1.1" stroke-dasharray="1.2 0.75"/>
<polyline points="196.0,490.0 206.0,486.0" fill="none" stroke="#333" stroke-width="1.1" stroke-dasharray="1.2 0.75"/>
<polyline points="210.0,512.0 240.0,500.0" fill="none" stroke="#333" stroke-width="1.1" stroke-dasharray="1.2 0.75"/>
<polyline points="220.0,520.0 232.0,515.0" fill="none" stroke="#333" stroke-width="1.1" stroke-dasharray="1.2 0.75"/>
<polyline points="215.0,503.0 226.0,498.0" fill="none" stroke="#333" stroke-width="1.1" stroke-dasharray="1.2 0.75"/>
<ellipse cx="240.0" cy="507.8" rx="9.2" ry="10.8" transform="rotate(0 240.0 507.8)" fill="#fff" stroke="#333" stroke-width="1.1" stroke-dasharray="1.2 0.75"/>
<ellipse cx="240.0" cy="507.8" rx="6.5" ry="8.0" transform="rotate(0 240.0 507.8)" fill="none" stroke="#333" stroke-width="1.1" stroke-dasharray="1.2 0.75"/>
<path d="M237,500.5 A4,7 0 0 0 237,515.5" fill="none" stroke="#6a6a6a" stroke-width="3.6" stroke-dasharray="0.7 0.75"/>
<polygon points="203.6,439.3 203.6,455.3 213.9,460.3 224.2,455.3 224.2,439.3" fill="#fff" stroke="#333" stroke-width="1.1" stroke-dasharray="1.2 0.75"/>
<ellipse cx="213.9" cy="439.3" rx="10.3" ry="5" transform="rotate(0 213.9 439.3)" fill="#fff" stroke="#333" stroke-width="1.1" stroke-dasharray="1.2 0.75"/>
<ellipse cx="213.9" cy="439.8" rx="6.180000000000001" ry="3.0" transform="rotate(0 213.9 439.8)" fill="none" stroke="#5e5e5e" stroke-width="3.0" stroke-dasharray="0.7 0.75"/>
<polygon points="233.1,426.3 233.1,431.3 244.1,436.5 255.1,431.3 255.1,426.3" fill="#fff" stroke="#333" stroke-width="1.1" stroke-dasharray="1.2 0.75"/>
<ellipse cx="244.1" cy="426.3" rx="11" ry="5.2" transform="rotate(0 244.1 426.3)" fill="#fff" stroke="#333" stroke-width="1.1" stroke-dasharray="1.2 0.75"/>
<ellipse cx="244.1" cy="426.8" rx="6.6" ry="3.12" transform="rotate(0 244.1 426.8)" fill="none" stroke="#5e5e5e" stroke-width="3.0" stroke-dasharray="0.7 0.75"/>
<polygon points="252.0,433.8 252.0,437.8 258.3,440.8 264.6,437.8 264.6,433.8" fill="#fff" stroke="#333" stroke-width="1.1" stroke-dasharray="1.2 0.75"/>
<ellipse cx="258.3" cy="433.8" rx="6.3" ry="3" transform="rotate(0 258.3 433.8)" fill="#fff" stroke="#333" stroke-width="1.1" stroke-dasharray="1.2 0.75"/>
<polygon points="249.8,441.5 249.8,445.5 255.0,448.1 260.2,445.5 260.2,441.5" fill="#fff" stroke="#333" stroke-width="1.1" stroke-dasharray="1.2 0.75"/>
<ellipse cx="255.0" cy="441.5" rx="5.2" ry="2.6" transform="rotate(0 255.0 441.5)" fill="#fff" stroke="#333" stroke-width="1.1" stroke-dasharray="1.2 0.75"/>
<polygon points="266.4,441.0 266.4,444.0 274.6,447.4 282.8,444.0 282.8,441.0" fill="#fff" stroke="#333" stroke-width="1.1" stroke-dasharray="1.2 0.75"/>
<ellipse cx="274.6" cy="441.0" rx="8.2" ry="3.4" transform="rotate(0 274.6 441.0)" fill="#fff" stroke="#333" stroke-width="1.1" stroke-dasharray="1.2 0.75"/>
<ellipse cx="274.6" cy="441.0" rx="5" ry="2" transform="rotate(0 274.6 441.0)" fill="none" stroke="#333" stroke-width="1.1" stroke-dasharray="1.2 0.75"/>
<ellipse cx="282.7" cy="475.1" rx="1.5" ry="1.6" transform="rotate(0 282.7 475.1)" fill="#aaa" stroke="#333" stroke-width="0.9" />
<ellipse cx="296.9" cy="503.6" rx="1.5" ry="1.6" transform="rotate(0 296.9 503.6)" fill="#aaa" stroke="#333" stroke-width="0.9" />
<ellipse cx="250.0" cy="528.7" rx="1.5" ry="1.6" transform="rotate(0 250.0 528.7)" fill="#aaa" stroke="#333" stroke-width="0.9" />
<ellipse cx="224.2" cy="519.5" rx="1.5" ry="1.6" transform="rotate(0 224.2 519.5)" fill="#aaa" stroke="#333" stroke-width="0.9" />
</svg></body></html>
